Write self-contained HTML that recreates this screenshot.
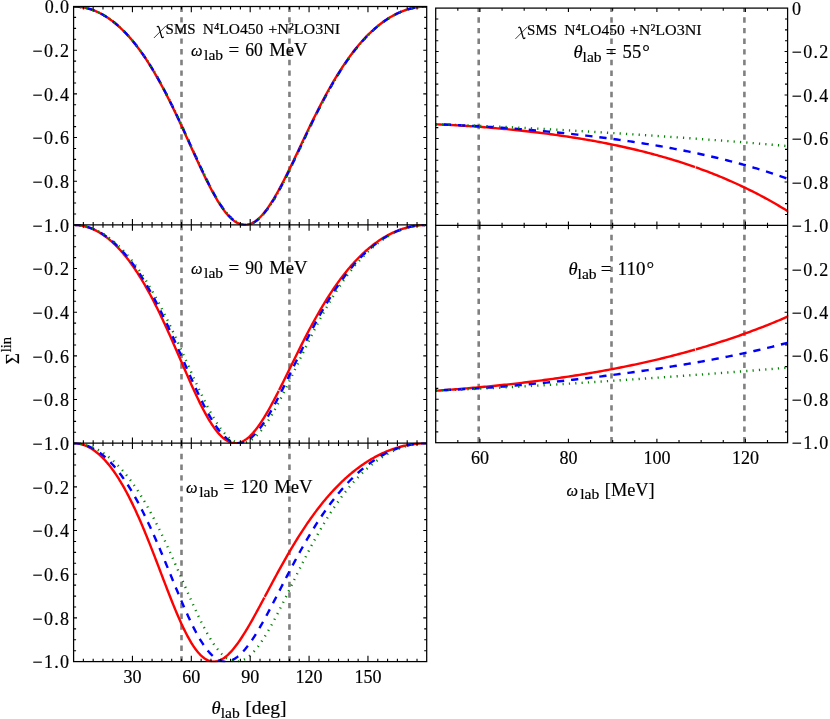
<!DOCTYPE html>
<html><head><meta charset="utf-8"><title>plot</title><style>html,body{margin:0;padding:0;background:#fff}body{width:830px;height:719px;overflow:hidden;font-family:"Liberation Serif",serif}</style></head><body>
<svg width="830" height="719" viewBox="0 0 830 719" style="display:block;will-change:transform">
<rect width="830" height="719" fill="#fff"/>
<clipPath id="cl0"><rect x="73.00" y="5.90" width="354.30" height="219.60"/></clipPath>
<clipPath id="cl1"><rect x="73.00" y="224.30" width="354.30" height="219.50"/></clipPath>
<clipPath id="cl2"><rect x="73.00" y="442.60" width="354.30" height="219.60"/></clipPath>
<clipPath id="cr0"><rect x="435.10" y="7.50" width="353.10" height="218.50"/></clipPath>
<clipPath id="cr1"><rect x="435.10" y="224.80" width="353.10" height="218.50"/></clipPath>
<path d="M181.50 6.50 V224.90" stroke="#808080" stroke-width="2.6" stroke-dasharray="5.4 5.25" fill="none"/>
<path d="M289.45 6.50 V224.90" stroke="#808080" stroke-width="2.6" stroke-dasharray="5.4 5.25" fill="none"/>
<path d="M181.50 224.90 V443.20" stroke="#808080" stroke-width="2.6" stroke-dasharray="5.4 5.25" fill="none"/>
<path d="M289.45 224.90 V443.20" stroke="#808080" stroke-width="2.6" stroke-dasharray="5.4 5.25" fill="none"/>
<path d="M181.50 443.20 V661.60" stroke="#808080" stroke-width="2.6" stroke-dasharray="5.4 5.25" fill="none"/>
<path d="M289.45 443.20 V661.60" stroke="#808080" stroke-width="2.6" stroke-dasharray="5.4 5.25" fill="none"/>
<path d="M478.70 8.10 V225.40" stroke="#808080" stroke-width="2.6" stroke-dasharray="5.4 5.25" stroke-dashoffset="1.50" fill="none"/>
<path d="M611.50 8.10 V225.40" stroke="#808080" stroke-width="2.6" stroke-dasharray="5.4 5.25" stroke-dashoffset="1.50" fill="none"/>
<path d="M744.40 8.10 V225.40" stroke="#808080" stroke-width="2.6" stroke-dasharray="5.4 5.25" stroke-dashoffset="1.50" fill="none"/>
<path d="M478.70 225.40 V442.70" stroke="#808080" stroke-width="2.6" stroke-dasharray="5.4 5.25" stroke-dashoffset="1.30" fill="none"/>
<path d="M611.50 225.40 V442.70" stroke="#808080" stroke-width="2.6" stroke-dasharray="5.4 5.25" stroke-dashoffset="1.30" fill="none"/>
<path d="M744.40 225.40 V442.70" stroke="#808080" stroke-width="2.6" stroke-dasharray="5.4 5.25" stroke-dashoffset="1.30" fill="none"/>
<g clip-path="url(#cl0)" fill="none">
<path d="M73.55 6.50 L74.53 6.51 L75.51 6.54 L76.49 6.58 L77.48 6.65 L78.46 6.73 L79.44 6.83 L80.42 6.95 L81.40 7.08 L82.38 7.24 L83.36 7.41 L84.34 7.61 L85.33 7.82 L86.31 8.05 L87.29 8.29 L88.27 8.56 L89.25 8.85 L90.23 9.15 L91.21 9.47 L92.20 9.81 L93.18 10.17 L94.16 10.55 L95.14 10.95 L96.12 11.36 L97.10 11.80 L98.08 12.25 L99.07 12.72 L100.05 13.22 L101.03 13.73 L102.01 14.26 L102.99 14.81 L103.97 15.38 L104.95 15.97 L105.93 16.58 L106.92 17.21 L107.90 17.85 L108.88 18.52 L109.86 19.21 L110.84 19.92 L111.82 20.65 L112.80 21.39 L113.79 22.16 L114.77 22.95 L115.75 23.76 L116.73 24.59 L117.71 25.44 L118.69 26.31 L119.67 27.20 L120.65 28.12 L121.64 29.05 L122.62 30.00 L123.60 30.98 L124.58 31.98 L125.56 32.99 L126.54 34.03 L127.52 35.09 L128.51 36.18 L129.49 37.28 L130.47 38.41 L131.45 39.55 L132.43 40.72 L133.41 41.91 L134.39 43.12 L135.38 44.36 L136.36 45.62 L137.34 46.89 L138.32 48.19 L139.30 49.52 L140.28 50.86 L141.26 52.23 L142.24 53.62 L143.23 55.03 L144.21 56.46 L145.19 57.92 L146.17 59.39 L147.15 60.89 L148.13 62.41 L149.11 63.96 L150.10 65.52 L151.08 67.11 L152.06 68.72 L153.04 70.35 L154.02 72.00 L155.00 73.67 L155.98 75.37 L156.96 77.08 L157.95 78.82 L158.93 80.57 L159.91 82.35 L160.89 84.15 L161.87 85.97 L162.85 87.80 L163.83 89.66 L164.82 91.53 L165.80 93.43 L166.78 95.34 L167.76 97.27 L168.74 99.22 L169.72 101.18 L170.70 103.16 L171.69 105.16 L172.67 107.17 L173.65 109.20 L174.63 111.24 L175.61 113.30 L176.59 115.37 L177.57 117.45 L178.55 119.55 L179.54 121.65 L180.52 123.77 L181.50 125.89 L182.48 128.03 L183.46 130.17 L184.44 132.32 L185.42 134.48 L186.41 136.64 L187.39 138.80 L188.37 140.97 L189.35 143.14 L190.33 145.31 L191.31 147.48 L192.29 149.65 L193.27 151.81 L194.26 153.98 L195.24 156.13 L196.22 158.28 L197.20 160.43 L198.18 162.56 L199.16 164.69 L200.14 166.80 L201.13 168.90 L202.11 170.98 L203.09 173.05 L204.07 175.09 L205.05 177.12 L206.03 179.13 L207.01 181.12 L207.99 183.08 L208.98 185.02 L209.96 186.92 L210.94 188.80 L211.92 190.65 L212.90 192.47 L213.88 194.25 L214.86 196.00 L215.85 197.71 L216.83 199.38 L217.81 201.01 L218.79 202.60 L219.77 204.15 L220.75 205.65 L221.73 207.10 L222.72 208.50 L223.70 209.86 L224.68 211.17 L225.66 212.42 L226.64 213.62 L227.62 214.76 L228.60 215.85 L229.58 216.88 L230.57 217.86 L231.55 218.77 L232.53 219.62 L233.51 220.42 L234.49 221.15 L235.47 221.81 L236.45 222.42 L237.44 222.95 L238.42 223.43 L239.40 223.84 L240.38 224.18 L241.36 224.46 L242.34 224.67 L243.32 224.81 L244.30 224.89 L245.29 224.90 L246.27 224.84 L247.25 224.72 L248.23 224.53 L249.21 224.27 L250.19 223.95 L251.17 223.57 L252.16 223.12 L253.14 222.60 L254.12 222.02 L255.10 221.38 L256.08 220.68 L257.06 219.92 L258.04 219.10 L259.03 218.22 L260.01 217.28 L260.99 216.28 L261.97 215.23 L262.95 214.13 L263.93 212.97 L264.91 211.76 L265.89 210.50 L266.88 209.20 L267.86 207.84 L268.84 206.44 L269.82 204.99 L270.80 203.50 L271.78 201.97 L272.76 200.41 L273.75 198.80 L274.73 197.15 L275.71 195.47 L276.69 193.76 L277.67 192.01 L278.65 190.24 L279.63 188.43 L280.61 186.60 L281.60 184.74 L282.58 182.86 L283.56 180.96 L284.54 179.03 L285.52 177.09 L286.50 175.12 L287.48 173.14 L288.47 171.15 L289.45 169.14 L290.43 167.12 L291.41 165.08 L292.39 163.04 L293.37 160.99 L294.35 158.93 L295.34 156.86 L296.32 154.79 L297.30 152.72 L298.28 150.65 L299.26 148.57 L300.24 146.49 L301.22 144.41 L302.20 142.34 L303.19 140.26 L304.17 138.20 L305.15 136.13 L306.13 134.07 L307.11 132.02 L308.09 129.97 L309.07 127.93 L310.06 125.90 L311.04 123.88 L312.02 121.87 L313.00 119.87 L313.98 117.89 L314.96 115.91 L315.94 113.95 L316.92 111.99 L317.91 110.06 L318.89 108.13 L319.87 106.22 L320.85 104.33 L321.83 102.45 L322.81 100.59 L323.79 98.74 L324.78 96.91 L325.76 95.09 L326.74 93.30 L327.72 91.52 L328.70 89.75 L329.68 88.01 L330.66 86.28 L331.65 84.57 L332.63 82.88 L333.61 81.21 L334.59 79.56 L335.57 77.93 L336.55 76.31 L337.53 74.72 L338.51 73.14 L339.50 71.58 L340.48 70.05 L341.46 68.53 L342.44 67.03 L343.42 65.55 L344.40 64.09 L345.38 62.66 L346.37 61.24 L347.35 59.84 L348.33 58.46 L349.31 57.10 L350.29 55.75 L351.27 54.43 L352.25 53.13 L353.23 51.85 L354.22 50.59 L355.20 49.35 L356.18 48.12 L357.16 46.92 L358.14 45.74 L359.12 44.57 L360.10 43.43 L361.09 42.30 L362.07 41.19 L363.05 40.10 L364.03 39.04 L365.01 37.98 L365.99 36.95 L366.97 35.94 L367.95 34.95 L368.94 33.97 L369.92 33.02 L370.90 32.08 L371.88 31.16 L372.86 30.26 L373.84 29.37 L374.82 28.51 L375.81 27.66 L376.79 26.83 L377.77 26.02 L378.75 25.22 L379.73 24.45 L380.71 23.69 L381.69 22.95 L382.68 22.22 L383.66 21.52 L384.64 20.83 L385.62 20.16 L386.60 19.50 L387.58 18.86 L388.56 18.24 L389.54 17.64 L390.53 17.05 L391.51 16.48 L392.49 15.92 L393.47 15.38 L394.45 14.86 L395.43 14.36 L396.41 13.87 L397.40 13.40 L398.38 12.94 L399.36 12.50 L400.34 12.07 L401.32 11.66 L402.30 11.27 L403.28 10.90 L404.26 10.53 L405.25 10.19 L406.23 9.86 L407.21 9.55 L408.19 9.25 L409.17 8.96 L410.15 8.70 L411.13 8.45 L412.12 8.21 L413.10 7.99 L414.08 7.78 L415.06 7.59 L416.04 7.42 L417.02 7.26 L418.00 7.11 L418.99 6.99 L419.97 6.87 L420.95 6.77 L421.93 6.69 L422.91 6.62 L423.89 6.57 L424.87 6.53 L425.85 6.51 L426.84 6.50" stroke="#ff0000" stroke-width="2.40"/>
<path d="M73.55 6.50 L74.53 6.51 L75.51 6.54 L76.49 6.58 L77.48 6.65 L78.46 6.73 L79.44 6.83 L80.42 6.95 L81.40 7.08 L82.38 7.24 L83.36 7.41 L84.34 7.60 L85.33 7.81 L86.31 8.04 L87.29 8.29 L88.27 8.55 L89.25 8.83 L90.23 9.14 L91.21 9.46 L92.20 9.80 L93.18 10.15 L94.16 10.53 L95.14 10.93 L96.12 11.34 L97.10 11.77 L98.08 12.22 L99.07 12.70 L100.05 13.19 L101.03 13.69 L102.01 14.22 L102.99 14.77 L103.97 15.34 L104.95 15.92 L105.93 16.53 L106.92 17.16 L107.90 17.80 L108.88 18.47 L109.86 19.15 L110.84 19.85 L111.82 20.58 L112.80 21.32 L113.79 22.09 L114.77 22.87 L115.75 23.68 L116.73 24.50 L117.71 25.35 L118.69 26.22 L119.67 27.10 L120.65 28.01 L121.64 28.94 L122.62 29.89 L123.60 30.86 L124.58 31.85 L125.56 32.86 L126.54 33.90 L127.52 34.95 L128.51 36.03 L129.49 37.13 L130.47 38.25 L131.45 39.39 L132.43 40.55 L133.41 41.74 L134.39 42.94 L135.38 44.17 L136.36 45.42 L137.34 46.69 L138.32 47.99 L139.30 49.30 L140.28 50.64 L141.26 52.00 L142.24 53.38 L143.23 54.78 L144.21 56.21 L145.19 57.66 L146.17 59.13 L147.15 60.62 L148.13 62.13 L149.11 63.67 L150.10 65.22 L151.08 66.80 L152.06 68.40 L153.04 70.02 L154.02 71.67 L155.00 73.33 L155.98 75.01 L156.96 76.72 L157.95 78.45 L158.93 80.20 L159.91 81.96 L160.89 83.75 L161.87 85.56 L162.85 87.39 L163.83 89.23 L164.82 91.10 L165.80 92.98 L166.78 94.88 L167.76 96.80 L168.74 98.74 L169.72 100.70 L170.70 102.67 L171.69 104.66 L172.67 106.66 L173.65 108.68 L174.63 110.71 L175.61 112.76 L176.59 114.82 L177.57 116.89 L178.55 118.98 L179.54 121.08 L180.52 123.18 L181.50 125.30 L182.48 127.43 L183.46 129.56 L184.44 131.70 L185.42 133.85 L186.41 136.00 L187.39 138.16 L188.37 140.32 L189.35 142.48 L190.33 144.65 L191.31 146.81 L192.29 148.97 L193.27 151.14 L194.26 153.29 L195.24 155.45 L196.22 157.59 L197.20 159.73 L198.18 161.87 L199.16 163.99 L200.14 166.10 L201.13 168.19 L202.11 170.28 L203.09 172.34 L204.07 174.39 L205.05 176.42 L206.03 178.43 L207.01 180.42 L207.99 182.39 L208.98 184.33 L209.96 186.24 L210.94 188.13 L211.92 189.98 L212.90 191.81 L213.88 193.60 L214.86 195.35 L215.85 197.07 L216.83 198.75 L217.81 200.39 L218.79 202.00 L219.77 203.55 L220.75 205.07 L221.73 206.54 L222.72 207.96 L223.70 209.33 L224.68 210.65 L225.66 211.92 L226.64 213.14 L227.62 214.31 L228.60 215.41 L229.58 216.47 L230.57 217.46 L231.55 218.40 L232.53 219.27 L233.51 220.09 L234.49 220.84 L235.47 221.54 L236.45 222.17 L237.44 222.73 L238.42 223.23 L239.40 223.67 L240.38 224.04 L241.36 224.34 L242.34 224.58 L243.32 224.75 L244.30 224.86 L245.29 224.90 L246.27 224.87 L247.25 224.78 L248.23 224.62 L249.21 224.40 L250.19 224.11 L251.17 223.75 L252.16 223.33 L253.14 222.85 L254.12 222.30 L255.10 221.69 L256.08 221.02 L257.06 220.28 L258.04 219.49 L259.03 218.64 L260.01 217.73 L260.99 216.76 L261.97 215.74 L262.95 214.66 L263.93 213.53 L264.91 212.35 L265.89 211.11 L266.88 209.83 L267.86 208.50 L268.84 207.12 L269.82 205.70 L270.80 204.23 L271.78 202.72 L272.76 201.18 L273.75 199.59 L274.73 197.96 L275.71 196.30 L276.69 194.61 L277.67 192.88 L278.65 191.12 L279.63 189.33 L280.61 187.51 L281.60 185.67 L282.58 183.80 L283.56 181.90 L284.54 179.99 L285.52 178.05 L286.50 176.10 L287.48 174.13 L288.47 172.14 L289.45 170.14 L290.43 168.12 L291.41 166.10 L292.39 164.06 L293.37 162.01 L294.35 159.95 L295.34 157.89 L296.32 155.82 L297.30 153.75 L298.28 151.68 L299.26 149.60 L300.24 147.52 L301.22 145.44 L302.20 143.36 L303.19 141.29 L304.17 139.22 L305.15 137.15 L306.13 135.08 L307.11 133.03 L308.09 130.97 L309.07 128.93 L310.06 126.89 L311.04 124.87 L312.02 122.85 L313.00 120.84 L313.98 118.85 L314.96 116.86 L315.94 114.89 L316.92 112.93 L317.91 110.98 L318.89 109.05 L319.87 107.13 L320.85 105.22 L321.83 103.33 L322.81 101.46 L323.79 99.60 L324.78 97.76 L325.76 95.93 L326.74 94.12 L327.72 92.33 L328.70 90.56 L329.68 88.80 L330.66 87.06 L331.65 85.34 L332.63 83.64 L333.61 81.96 L334.59 80.29 L335.57 78.65 L336.55 77.02 L337.53 75.41 L338.51 73.82 L339.50 72.25 L340.48 70.70 L341.46 69.17 L342.44 67.66 L343.42 66.17 L344.40 64.70 L345.38 63.25 L346.37 61.81 L347.35 60.40 L348.33 59.01 L349.31 57.64 L350.29 56.28 L351.27 54.95 L352.25 53.64 L353.23 52.34 L354.22 51.07 L355.20 49.81 L356.18 48.58 L357.16 47.36 L358.14 46.17 L359.12 44.99 L360.10 43.83 L361.09 42.70 L362.07 41.58 L363.05 40.48 L364.03 39.40 L365.01 38.34 L365.99 37.30 L366.97 36.27 L367.95 35.27 L368.94 34.28 L369.92 33.32 L370.90 32.37 L371.88 31.44 L372.86 30.53 L373.84 29.63 L374.82 28.76 L375.81 27.90 L376.79 27.06 L377.77 26.24 L378.75 25.44 L379.73 24.65 L380.71 23.89 L381.69 23.14 L382.68 22.41 L383.66 21.69 L384.64 20.99 L385.62 20.31 L386.60 19.65 L387.58 19.01 L388.56 18.38 L389.54 17.77 L390.53 17.17 L391.51 16.59 L392.49 16.03 L393.47 15.49 L394.45 14.96 L395.43 14.45 L396.41 13.95 L397.40 13.48 L398.38 13.01 L399.36 12.57 L400.34 12.14 L401.32 11.73 L402.30 11.33 L403.28 10.95 L404.26 10.58 L405.25 10.23 L406.23 9.90 L407.21 9.58 L408.19 9.28 L409.17 8.99 L410.15 8.72 L411.13 8.47 L412.12 8.23 L413.10 8.01 L414.08 7.80 L415.06 7.61 L416.04 7.43 L417.02 7.27 L418.00 7.12 L418.99 6.99 L419.97 6.88 L420.95 6.78 L421.93 6.69 L422.91 6.62 L423.89 6.57 L424.87 6.53 L425.85 6.51 L426.84 6.50" stroke="#0000ff" stroke-width="2.40" stroke-dasharray="7.3 6.9"/>
<path d="M73.55 6.50 L74.53 6.51 L75.51 6.54 L76.49 6.58 L77.48 6.64 L78.46 6.73 L79.44 6.83 L80.42 6.94 L81.40 7.08 L82.38 7.23 L83.36 7.41 L84.34 7.60 L85.33 7.81 L86.31 8.03 L87.29 8.28 L88.27 8.54 L89.25 8.82 L90.23 9.12 L91.21 9.44 L92.20 9.78 L93.18 10.14 L94.16 10.51 L95.14 10.91 L96.12 11.32 L97.10 11.75 L98.08 12.20 L99.07 12.67 L100.05 13.15 L101.03 13.66 L102.01 14.19 L102.99 14.73 L103.97 15.30 L104.95 15.88 L105.93 16.48 L106.92 17.11 L107.90 17.75 L108.88 18.41 L109.86 19.09 L110.84 19.79 L111.82 20.51 L112.80 21.25 L113.79 22.02 L114.77 22.80 L115.75 23.60 L116.73 24.42 L117.71 25.26 L118.69 26.12 L119.67 27.01 L120.65 27.91 L121.64 28.84 L122.62 29.78 L123.60 30.75 L124.58 31.74 L125.56 32.74 L126.54 33.77 L127.52 34.82 L128.51 35.90 L129.49 36.99 L130.47 38.10 L131.45 39.24 L132.43 40.40 L133.41 41.58 L134.39 42.78 L135.38 44.00 L136.36 45.24 L137.34 46.51 L138.32 47.80 L139.30 49.11 L140.28 50.44 L141.26 51.79 L142.24 53.17 L143.23 54.57 L144.21 55.99 L145.19 57.43 L146.17 58.89 L147.15 60.38 L148.13 61.88 L149.11 63.41 L150.10 64.96 L151.08 66.53 L152.06 68.13 L153.04 69.74 L154.02 71.38 L155.00 73.04 L155.98 74.72 L156.96 76.42 L157.95 78.14 L158.93 79.88 L159.91 81.64 L160.89 83.42 L161.87 85.22 L162.85 87.04 L163.83 88.88 L164.82 90.74 L165.80 92.62 L166.78 94.51 L167.76 96.43 L168.74 98.36 L169.72 100.31 L170.70 102.28 L171.69 104.26 L172.67 106.25 L173.65 108.27 L174.63 110.30 L175.61 112.34 L176.59 114.39 L177.57 116.46 L178.55 118.54 L179.54 120.63 L180.52 122.73 L181.50 124.85 L182.48 126.97 L183.46 129.10 L184.44 131.24 L185.42 133.38 L186.41 135.53 L187.39 137.68 L188.37 139.84 L189.35 142.00 L190.33 144.16 L191.31 146.33 L192.29 148.49 L193.27 150.65 L194.26 152.80 L195.24 154.96 L196.22 157.10 L197.20 159.24 L198.18 161.37 L199.16 163.50 L200.14 165.61 L201.13 167.70 L202.11 169.79 L203.09 171.86 L204.07 173.91 L205.05 175.94 L206.03 177.96 L207.01 179.95 L207.99 181.92 L208.98 183.87 L209.96 185.78 L210.94 187.68 L211.92 189.54 L212.90 191.37 L213.88 193.16 L214.86 194.93 L215.85 196.66 L216.83 198.35 L217.81 200.00 L218.79 201.61 L219.77 203.18 L220.75 204.70 L221.73 206.18 L222.72 207.61 L223.70 209.00 L224.68 210.33 L225.66 211.61 L226.64 212.84 L227.62 214.02 L228.60 215.14 L229.58 216.21 L230.57 217.22 L231.55 218.17 L232.53 219.06 L233.51 219.89 L234.49 220.66 L235.47 221.37 L236.45 222.01 L237.44 222.60 L238.42 223.11 L239.40 223.56 L240.38 223.95 L241.36 224.27 L242.34 224.53 L243.32 224.72 L244.30 224.84 L245.29 224.90 L246.27 224.89 L247.25 224.81 L248.23 224.67 L249.21 224.46 L250.19 224.18 L251.17 223.84 L252.16 223.44 L253.14 222.97 L254.12 222.44 L255.10 221.85 L256.08 221.19 L257.06 220.47 L258.04 219.69 L259.03 218.85 L260.01 217.96 L260.99 217.00 L261.97 215.99 L262.95 214.93 L263.93 213.81 L264.91 212.64 L265.89 211.42 L266.88 210.15 L267.86 208.83 L268.84 207.46 L269.82 206.05 L270.80 204.59 L271.78 203.09 L272.76 201.55 L273.75 199.97 L274.73 198.35 L275.71 196.70 L276.69 195.01 L277.67 193.29 L278.65 191.53 L279.63 189.75 L280.61 187.94 L281.60 186.10 L282.58 184.23 L283.56 182.34 L284.54 180.43 L285.52 178.50 L286.50 176.55 L287.48 174.58 L288.47 172.59 L289.45 170.59 L290.43 168.58 L291.41 166.55 L292.39 164.51 L293.37 162.47 L294.35 160.41 L295.34 158.35 L296.32 156.28 L297.30 154.20 L298.28 152.13 L299.26 150.05 L300.24 147.97 L301.22 145.89 L302.20 143.81 L303.19 141.73 L304.17 139.65 L305.15 137.58 L306.13 135.51 L307.11 133.45 L308.09 131.40 L309.07 129.35 L310.06 127.31 L311.04 125.28 L312.02 123.25 L313.00 121.24 L313.98 119.24 L314.96 117.25 L315.94 115.27 L316.92 113.31 L317.91 111.36 L318.89 109.42 L319.87 107.49 L320.85 105.58 L321.83 103.69 L322.81 101.81 L323.79 99.94 L324.78 98.10 L325.76 96.27 L326.74 94.45 L327.72 92.65 L328.70 90.87 L329.68 89.11 L330.66 87.37 L331.65 85.64 L332.63 83.93 L333.61 82.24 L334.59 80.57 L335.57 78.92 L336.55 77.29 L337.53 75.67 L338.51 74.08 L339.50 72.51 L340.48 70.95 L341.46 69.41 L342.44 67.90 L343.42 66.40 L344.40 64.92 L345.38 63.47 L346.37 62.03 L347.35 60.61 L348.33 59.21 L349.31 57.84 L350.29 56.48 L351.27 55.14 L352.25 53.82 L353.23 52.52 L354.22 51.24 L355.20 49.98 L356.18 48.74 L357.16 47.52 L358.14 46.32 L359.12 45.14 L360.10 43.98 L361.09 42.84 L362.07 41.72 L363.05 40.61 L364.03 39.53 L365.01 38.46 L365.99 37.42 L366.97 36.39 L367.95 35.38 L368.94 34.39 L369.92 33.42 L370.90 32.47 L371.88 31.54 L372.86 30.62 L373.84 29.72 L374.82 28.85 L375.81 27.99 L376.79 27.14 L377.77 26.32 L378.75 25.51 L379.73 24.73 L380.71 23.96 L381.69 23.20 L382.68 22.47 L383.66 21.75 L384.64 21.05 L385.62 20.37 L386.60 19.70 L387.58 19.06 L388.56 18.42 L389.54 17.81 L390.53 17.21 L391.51 16.63 L392.49 16.07 L393.47 15.52 L394.45 14.99 L395.43 14.48 L396.41 13.98 L397.40 13.50 L398.38 13.04 L399.36 12.59 L400.34 12.16 L401.32 11.75 L402.30 11.35 L403.28 10.96 L404.26 10.60 L405.25 10.25 L406.23 9.91 L407.21 9.59 L408.19 9.29 L409.17 9.00 L410.15 8.73 L411.13 8.48 L412.12 8.24 L413.10 8.01 L414.08 7.80 L415.06 7.61 L416.04 7.43 L417.02 7.27 L418.00 7.12 L418.99 6.99 L419.97 6.88 L420.95 6.78 L421.93 6.69 L422.91 6.62 L423.89 6.57 L424.87 6.53 L425.85 6.51 L426.84 6.50" stroke="#008300" stroke-width="2.40" stroke-dasharray="1.2 5.15"/>
</g>
<g clip-path="url(#cl1)" fill="none">
<path d="M73.55 224.90 L74.53 224.91 L75.51 224.94 L76.49 225.00 L77.48 225.07 L78.46 225.17 L79.44 225.29 L80.42 225.43 L81.40 225.60 L82.38 225.78 L83.36 225.99 L84.34 226.22 L85.33 226.47 L86.31 226.74 L87.29 227.03 L88.27 227.35 L89.25 227.69 L90.23 228.05 L91.21 228.43 L92.20 228.84 L93.18 229.26 L94.16 229.71 L95.14 230.18 L96.12 230.68 L97.10 231.20 L98.08 231.73 L99.07 232.30 L100.05 232.88 L101.03 233.49 L102.01 234.12 L102.99 234.77 L103.97 235.45 L104.95 236.15 L105.93 236.87 L106.92 237.62 L107.90 238.39 L108.88 239.18 L109.86 240.00 L110.84 240.84 L111.82 241.70 L112.80 242.59 L113.79 243.50 L114.77 244.44 L115.75 245.40 L116.73 246.38 L117.71 247.39 L118.69 248.42 L119.67 249.48 L120.65 250.56 L121.64 251.66 L122.62 252.79 L123.60 253.95 L124.58 255.13 L125.56 256.33 L126.54 257.56 L127.52 258.81 L128.51 260.09 L129.49 261.39 L130.47 262.72 L131.45 264.08 L132.43 265.45 L133.41 266.86 L134.39 268.28 L135.38 269.74 L136.36 271.21 L137.34 272.72 L138.32 274.24 L139.30 275.80 L140.28 277.37 L141.26 278.97 L142.24 280.60 L143.23 282.25 L144.21 283.92 L145.19 285.62 L146.17 287.35 L147.15 289.09 L148.13 290.86 L149.11 292.65 L150.10 294.47 L151.08 296.31 L152.06 298.17 L153.04 300.06 L154.02 301.96 L155.00 303.89 L155.98 305.84 L156.96 307.81 L157.95 309.80 L158.93 311.81 L159.91 313.84 L160.89 315.89 L161.87 317.95 L162.85 320.04 L163.83 322.14 L164.82 324.26 L165.80 326.39 L166.78 328.54 L167.76 330.71 L168.74 332.89 L169.72 335.08 L170.70 337.28 L171.69 339.49 L172.67 341.72 L173.65 343.95 L174.63 346.20 L175.61 348.45 L176.59 350.70 L177.57 352.97 L178.55 355.23 L179.54 357.50 L180.52 359.77 L181.50 362.04 L182.48 364.31 L183.46 366.58 L184.44 368.84 L185.42 371.10 L186.41 373.36 L187.39 375.60 L188.37 377.84 L189.35 380.06 L190.33 382.28 L191.31 384.48 L192.29 386.66 L193.27 388.83 L194.26 390.97 L195.24 393.10 L196.22 395.20 L197.20 397.29 L198.18 399.34 L199.16 401.37 L200.14 403.37 L201.13 405.34 L202.11 407.27 L203.09 409.18 L204.07 411.04 L205.05 412.87 L206.03 414.66 L207.01 416.41 L207.99 418.11 L208.98 419.78 L209.96 421.39 L210.94 422.96 L211.92 424.48 L212.90 425.95 L213.88 427.37 L214.86 428.73 L215.85 430.04 L216.83 431.29 L217.81 432.49 L218.79 433.63 L219.77 434.70 L220.75 435.72 L221.73 436.68 L222.72 437.57 L223.70 438.40 L224.68 439.17 L225.66 439.87 L226.64 440.50 L227.62 441.07 L228.60 441.57 L229.58 442.01 L230.57 442.37 L231.55 442.67 L232.53 442.91 L233.51 443.07 L234.49 443.17 L235.47 443.20 L236.45 443.16 L237.44 443.06 L238.42 442.89 L239.40 442.65 L240.38 442.35 L241.36 441.98 L242.34 441.54 L243.32 441.05 L244.30 440.49 L245.29 439.87 L246.27 439.18 L247.25 438.44 L248.23 437.64 L249.21 436.78 L250.19 435.86 L251.17 434.89 L252.16 433.87 L253.14 432.79 L254.12 431.66 L255.10 430.48 L256.08 429.25 L257.06 427.97 L258.04 426.65 L259.03 425.28 L260.01 423.87 L260.99 422.42 L261.97 420.93 L262.95 419.40 L263.93 417.83 L264.91 416.23 L265.89 414.60 L266.88 412.93 L267.86 411.24 L268.84 409.51 L269.82 407.76 L270.80 405.98 L271.78 404.18 L272.76 402.35 L273.75 400.50 L274.73 398.64 L275.71 396.75 L276.69 394.85 L277.67 392.93 L278.65 391.00 L278.71 390.89 M279.09 390.13 L279.63 389.06 L280.61 387.10 L281.60 385.13 L282.58 383.16 L283.56 381.18 L284.54 379.19 L285.52 377.19 L286.50 375.19 L287.48 373.19 L288.47 371.18 L289.45 369.18 L290.43 367.17 L291.41 365.17 L292.39 363.16 L293.37 361.16 L294.35 359.16 L295.34 357.17 L296.32 355.18 L297.30 353.20 L298.28 351.23 L299.26 349.26 L300.24 347.30 L301.22 345.35 L302.20 343.41 L303.19 341.48 L304.17 339.55 L305.15 337.64 L306.13 335.75 L307.11 333.86 L308.09 331.99 L309.07 330.13 L310.06 328.28 L311.04 326.44 L312.02 324.63 L313.00 322.82 L313.98 321.03 L314.96 319.26 L315.94 317.50 L316.92 315.75 L317.91 314.03 L318.89 312.31 L319.87 310.62 L320.85 308.94 L321.83 307.28 L322.81 305.63 L323.79 304.01 L324.78 302.40 L325.76 300.80 L326.74 299.23 L327.72 297.67 L328.70 296.13 L329.68 294.61 L330.66 293.10 L331.65 291.62 L332.63 290.15 L333.61 288.70 L334.59 287.26 L335.57 285.85 L336.55 284.45 L337.53 283.07 L338.51 281.71 L339.50 280.37 L340.48 279.04 L341.46 277.74 L342.44 276.45 L343.42 275.18 L344.40 273.92 L345.38 272.69 L346.37 271.47 L347.35 270.27 L348.33 269.09 L349.31 267.92 L350.29 266.78 L351.27 265.65 L352.25 264.53 L353.23 263.44 L354.22 262.36 L355.20 261.30 L356.18 260.26 L357.16 259.23 L358.14 258.22 L359.12 257.23 L360.10 256.25 L361.09 255.29 L362.07 254.35 L363.05 253.43 L364.03 252.52 L365.01 251.62 L365.99 250.75 L366.97 249.89 L367.95 249.04 L368.94 248.21 L369.92 247.40 L370.90 246.60 L371.88 245.82 L372.86 245.05 L373.84 244.30 L374.82 243.57 L375.81 242.85 L376.79 242.15 L377.77 241.46 L378.75 240.78 L379.73 240.12 L380.71 239.48 L381.69 238.85 L382.68 238.24 L383.66 237.64 L384.64 237.05 L385.62 236.48 L386.60 235.93 L387.58 235.39 L388.56 234.86 L389.54 234.35 L390.53 233.85 L391.51 233.36 L392.49 232.89 L393.47 232.44 L394.45 231.99 L395.43 231.56 L396.41 231.15 L397.40 230.75 L398.38 230.36 L399.36 229.99 L400.34 229.63 L401.32 229.28 L402.30 228.95 L403.28 228.63 L404.26 228.32 L405.25 228.03 L406.23 227.75 L407.21 227.48 L408.19 227.23 L409.17 226.99 L410.15 226.76 L411.13 226.55 L412.12 226.35 L413.10 226.16 L414.08 225.99 L415.06 225.83 L416.04 225.68 L417.02 225.54 L418.00 225.42 L418.99 225.31 L419.97 225.22 L420.95 225.13 L421.93 225.06 L422.91 225.00 L423.89 224.96 L424.87 224.93 L425.85 224.91 L426.84 224.90" stroke="#ff0000" stroke-width="2.40"/>
<path d="M73.55 224.90 L74.53 224.91 L75.51 224.94 L76.49 224.99 L77.48 225.06 L78.46 225.16 L79.44 225.27 L80.42 225.40 L81.40 225.56 L82.38 225.73 L83.36 225.93 L84.34 226.15 L85.33 226.38 L86.31 226.64 L87.29 226.92 L88.27 227.22 L89.25 227.54 L90.23 227.88 L91.21 228.25 L92.20 228.63 L93.18 229.03 L94.16 229.46 L95.14 229.91 L96.12 230.38 L97.10 230.87 L98.08 231.38 L99.07 231.91 L100.05 232.46 L101.03 233.04 L102.01 233.64 L102.99 234.26 L103.97 234.90 L104.95 235.56 L105.93 236.25 L106.92 236.96 L107.90 237.68 L108.88 238.44 L109.86 239.21 L110.84 240.01 L111.82 240.83 L112.80 241.67 L113.79 242.53 L114.77 243.42 L115.75 244.33 L116.73 245.26 L117.71 246.22 L118.69 247.20 L119.67 248.20 L120.65 249.22 L121.64 250.27 L122.62 251.34 L123.60 252.44 L124.58 253.56 L125.56 254.70 L126.54 255.87 L127.52 257.06 L128.51 258.27 L129.49 259.51 L130.47 260.77 L131.45 262.06 L132.43 263.36 L133.41 264.70 L134.39 266.05 L135.38 267.44 L136.36 268.84 L137.34 270.27 L138.32 271.72 L139.30 273.20 L140.28 274.70 L141.26 276.22 L142.24 277.77 L143.23 279.34 L144.21 280.94 L145.19 282.56 L146.17 284.20 L147.15 285.87 L148.13 287.55 L149.11 289.27 L150.10 291.00 L151.08 292.76 L152.06 294.54 L153.04 296.34 L154.02 298.16 L155.00 300.01 L155.98 301.87 L156.96 303.76 L157.95 305.67 L158.93 307.60 L159.91 309.55 L160.89 311.51 L161.87 313.50 L162.85 315.51 L163.83 317.53 L164.82 319.57 L165.80 321.63 L166.78 323.71 L167.76 325.80 L168.74 327.91 L169.72 330.03 L170.70 332.16 L171.69 334.31 L172.67 336.47 L173.65 338.64 L174.63 340.83 L175.61 343.02 L176.59 345.22 L177.57 347.43 L178.55 349.65 L179.54 351.87 L180.52 354.10 L181.50 356.33 L182.48 358.56 L183.46 360.80 L184.44 363.03 L185.42 365.27 L186.41 367.50 L187.39 369.73 L188.37 371.95 L189.35 374.17 L190.33 376.38 L191.31 378.58 L192.29 380.77 L193.27 382.95 L194.26 385.11 L195.24 387.26 L196.22 389.40 L197.20 391.51 L198.18 393.61 L199.16 395.68 L200.14 397.73 L201.13 399.76 L202.11 401.75 L203.09 403.72 L204.07 405.67 L205.05 407.57 L206.03 409.45 L207.01 411.29 L207.99 413.09 L208.98 414.86 L209.96 416.59 L210.94 418.27 L211.92 419.91 L212.90 421.51 L213.88 423.06 L214.86 424.56 L215.85 426.02 L216.83 427.42 L217.81 428.77 L218.79 430.07 L219.77 431.31 L220.75 432.49 L221.73 433.62 L222.72 434.69 L223.70 435.70 L224.68 436.65 L225.66 437.54 L226.64 438.37 L227.62 439.13 L228.60 439.83 L229.58 440.47 L230.57 441.04 L231.55 441.54 L232.53 441.98 L233.51 442.35 L234.49 442.65 L235.47 442.89 L236.45 443.06 L237.44 443.16 L238.42 443.20 L239.40 443.17 L240.38 443.07 L241.36 442.91 L242.34 442.68 L243.32 442.38 L244.30 442.02 L245.29 441.60 L246.27 441.11 L247.25 440.56 L248.23 439.95 L249.21 439.27 L250.19 438.54 L251.17 437.74 L252.16 436.89 L253.14 435.98 L254.12 435.02 L255.10 434.00 L256.08 432.92 L257.06 431.80 L258.04 430.62 L259.03 429.40 L260.01 428.12 L260.99 426.80 L261.97 425.44 L262.95 424.03 L263.93 422.58 L264.91 421.09 L265.89 419.56 L266.88 417.99 L267.86 416.39 L268.84 414.75 L269.82 413.08 L270.80 411.38 L271.78 409.65 L272.76 407.89 L273.75 406.11 L274.73 404.30 L275.71 402.46 L276.69 400.61 L277.67 398.73 L278.65 396.83 L279.63 394.92 L280.61 392.99 L281.60 391.05 L282.58 389.09 L283.56 387.12 L284.54 385.14 L285.52 383.15 L286.50 381.15 L287.48 379.14 L288.47 377.13 L289.45 375.11 L290.43 373.09 L291.41 371.07 L292.39 369.04 L293.37 367.02 L294.35 364.99 L295.34 362.97 L296.32 360.95 L297.30 358.93 L298.28 356.92 L299.26 354.91 L300.24 352.90 L301.22 350.91 L302.20 348.92 L303.19 346.94 L304.17 344.96 L305.15 343.00 L306.13 341.05 L307.11 339.10 L308.09 337.17 L309.07 335.25 L310.06 333.34 L311.04 331.45 L312.02 329.56 L313.00 327.70 L313.98 325.84 L314.96 324.00 L315.94 322.17 L316.92 320.36 L317.91 318.57 L318.89 316.79 L319.87 315.02 L320.85 313.28 L321.83 311.54 L322.81 309.83 L323.79 308.13 L324.78 306.45 L325.76 304.79 L326.74 303.14 L327.72 301.51 L328.70 299.90 L329.68 298.31 L330.66 296.74 L331.65 295.18 L332.63 293.64 L333.61 292.12 L334.59 290.62 L335.57 289.13 L336.55 287.67 L337.53 286.22 L338.51 284.79 L339.50 283.38 L340.48 281.99 L341.46 280.62 L342.44 279.26 L343.42 277.93 L344.40 276.61 L345.38 275.31 L346.37 274.03 L347.35 272.77 L348.33 271.52 L349.31 270.30 L350.29 269.09 L351.27 267.90 L352.25 266.73 L353.23 265.58 L354.22 264.44 L355.20 263.32 L356.18 262.22 L357.16 261.14 L358.14 260.08 L359.12 259.03 L360.10 258.00 L361.09 256.99 L362.07 256.00 L363.05 255.02 L364.03 254.06 L365.01 253.12 L365.99 252.19 L366.97 251.29 L367.95 250.39 L368.94 249.52 L369.92 248.66 L370.90 247.82 L371.88 246.99 L372.86 246.19 L373.84 245.39 L374.82 244.62 L375.81 243.86 L376.79 243.12 L377.77 242.39 L378.75 241.68 L379.73 240.98 L380.71 240.30 L381.69 239.64 L382.68 238.99 L383.66 238.36 L384.64 237.74 L385.62 237.14 L386.60 236.55 L387.58 235.98 L388.56 235.42 L389.54 234.88 L390.53 234.35 L391.51 233.84 L392.49 233.34 L393.47 232.86 L394.45 232.39 L395.43 231.94 L396.41 231.50 L397.40 231.08 L398.38 230.67 L399.36 230.27 L400.34 229.89 L401.32 229.53 L402.30 229.18 L403.28 228.84 L404.26 228.52 L405.25 228.21 L406.23 227.91 L407.21 227.63 L408.19 227.36 L409.17 227.11 L410.15 226.87 L411.13 226.64 L412.12 226.43 L413.10 226.23 L414.08 226.05 L415.06 225.88 L416.04 225.72 L417.02 225.58 L418.00 225.45 L418.99 225.33 L419.97 225.23 L420.95 225.14 L421.93 225.07 L422.91 225.01 L423.89 224.96 L424.87 224.93 L425.85 224.91 L426.84 224.90" stroke="#0000ff" stroke-width="2.40" stroke-dasharray="7.3 6.9"/>
<path d="M73.55 224.90 L74.53 224.91 L75.51 224.94 L76.49 224.99 L77.48 225.06 L78.46 225.14 L79.44 225.25 L80.42 225.38 L81.40 225.52 L82.38 225.69 L83.36 225.87 L84.34 226.08 L85.33 226.30 L86.31 226.54 L87.29 226.81 L88.27 227.09 L89.25 227.39 L90.23 227.72 L91.21 228.06 L92.20 228.42 L93.18 228.80 L94.16 229.20 L95.14 229.63 L96.12 230.07 L97.10 230.53 L98.08 231.01 L99.07 231.52 L100.05 232.04 L101.03 232.58 L102.01 233.15 L102.99 233.73 L103.97 234.34 L104.95 234.96 L105.93 235.61 L106.92 236.28 L107.90 236.97 L108.88 237.68 L109.86 238.41 L110.84 239.16 L111.82 239.94 L112.80 240.73 L113.79 241.55 L114.77 242.38 L115.75 243.24 L116.73 244.12 L117.71 245.03 L118.69 245.95 L119.67 246.90 L120.65 247.87 L121.64 248.86 L122.62 249.87 L123.60 250.91 L124.58 251.97 L125.56 253.05 L126.54 254.15 L127.52 255.28 L128.51 256.42 L129.49 257.59 L130.47 258.79 L131.45 260.00 L132.43 261.24 L133.41 262.51 L134.39 263.79 L135.38 265.10 L136.36 266.43 L137.34 267.78 L138.32 269.16 L139.30 270.56 L140.28 271.98 L141.26 273.43 L142.24 274.90 L143.23 276.39 L144.21 277.91 L145.19 279.44 L146.17 281.01 L147.15 282.59 L148.13 284.19 L149.11 285.82 L150.10 287.47 L151.08 289.15 L152.06 290.84 L153.04 292.56 L154.02 294.30 L155.00 296.06 L155.98 297.84 L156.96 299.64 L157.95 301.47 L158.93 303.31 L159.91 305.18 L160.89 307.06 L161.87 308.97 L162.85 310.89 L163.83 312.83 L164.82 314.80 L165.80 316.77 L166.78 318.77 L167.76 320.78 L168.74 322.82 L169.72 324.86 L170.70 326.92 L171.69 329.00 L172.67 331.09 L173.65 333.19 L174.63 335.31 L175.61 337.44 L176.59 339.58 L177.57 341.73 L178.55 343.89 L179.54 346.06 L180.52 348.24 L181.50 350.42 L182.48 352.61 L183.46 354.81 L184.44 357.00 L185.42 359.21 L186.41 361.41 L187.39 363.61 L188.37 365.81 L189.35 368.01 L190.33 370.21 L191.31 372.40 L192.29 374.59 L193.27 376.77 L194.26 378.94 L195.24 381.10 L196.22 383.25 L197.20 385.39 L198.18 387.51 L199.16 389.62 L200.14 391.71 L201.13 393.78 L202.11 395.82 L203.09 397.85 L204.07 399.85 L205.05 401.83 L206.03 403.78 L207.01 405.70 L207.99 407.59 L208.98 409.45 L209.96 411.27 L210.94 413.06 L211.92 414.81 L212.90 416.53 L213.88 418.20 L214.86 419.83 L215.85 421.42 L216.83 422.96 L217.81 424.45 L218.79 425.90 L219.77 427.30 L220.75 428.64 L221.73 429.94 L222.72 431.18 L223.70 432.37 L224.68 433.49 L225.66 434.57 L226.64 435.58 L227.62 436.53 L228.60 437.43 L229.58 438.26 L230.57 439.03 L231.55 439.73 L232.53 440.38 L233.51 440.95 L234.49 441.47 L235.47 441.91 L236.45 442.29 L237.44 442.61 L238.42 442.86 L239.40 443.04 L240.38 443.15 L241.36 443.20 L242.34 443.18 L243.32 443.09 L244.30 442.94 L245.29 442.72 L246.27 442.44 L247.25 442.09 L248.23 441.68 L249.21 441.20 L250.19 440.66 L251.17 440.05 L252.16 439.39 L253.14 438.66 L254.12 437.87 L255.10 437.03 L256.08 436.13 L257.06 435.17 L258.04 434.15 L259.03 433.08 L260.01 431.96 L260.99 430.79 L261.97 429.56 L262.95 428.29 L263.93 426.97 L264.91 425.61 L265.89 424.20 L266.88 422.74 L267.86 421.25 L268.84 419.71 L269.82 418.14 L270.80 416.53 L271.78 414.89 L272.76 413.21 L273.75 411.50 L274.73 409.76 L275.71 407.99 L276.69 406.19 L277.67 404.36 L278.65 402.52 L279.63 400.64 L280.61 398.75 L281.60 396.84 L282.58 394.91 L283.56 392.96 L284.54 391.00 L285.52 389.02 L286.50 387.03 L287.48 385.03 L288.47 383.02 L289.45 381.00 L290.43 378.97 L291.41 376.93 L292.39 374.89 L293.37 372.85 L294.35 370.80 L295.34 368.75 L296.32 366.70 L297.30 364.65 L298.28 362.60 L299.26 360.56 L300.24 358.52 L301.22 356.48 L302.20 354.44 L303.19 352.41 L304.17 350.39 L305.15 348.38 L306.13 346.37 L307.11 344.37 L308.09 342.38 L309.07 340.40 L310.06 338.43 L311.04 336.48 L312.02 334.53 L313.00 332.60 L313.98 330.68 L314.96 328.77 L315.94 326.88 L316.92 325.00 L317.91 323.14 L318.89 321.29 L319.87 319.46 L320.85 317.64 L321.83 315.84 L322.81 314.05 L323.79 312.28 L324.78 310.53 L325.76 308.80 L326.74 307.08 L327.72 305.38 L328.70 303.70 L329.68 302.03 L330.66 300.39 L331.65 298.76 L332.63 297.15 L333.61 295.56 L334.59 293.99 L335.57 292.43 L336.55 290.90 L337.53 289.38 L338.51 287.88 L339.50 286.41 L340.48 284.95 L341.46 283.51 L342.44 282.09 L343.42 280.68 L344.40 279.30 L345.38 277.94 L346.37 276.59 L347.35 275.27 L348.33 273.96 L349.31 272.67 L350.29 271.40 L351.27 270.15 L352.25 268.92 L353.23 267.71 L354.22 266.52 L355.20 265.34 L356.18 264.18 L357.16 263.05 L358.14 261.93 L359.12 260.83 L360.10 259.74 L361.09 258.68 L362.07 257.63 L363.05 256.61 L364.03 255.60 L365.01 254.61 L365.99 253.63 L366.97 252.68 L367.95 251.74 L368.94 250.82 L369.92 249.91 L370.90 249.03 L371.88 248.16 L372.86 247.31 L373.84 246.48 L374.82 245.66 L375.81 244.86 L376.79 244.08 L377.77 243.31 L378.75 242.56 L379.73 241.83 L380.71 241.11 L381.69 240.41 L382.68 239.73 L383.66 239.06 L384.64 238.41 L385.62 237.78 L386.60 237.16 L387.58 236.56 L388.56 235.97 L389.54 235.40 L390.53 234.85 L391.51 234.31 L392.49 233.79 L393.47 233.28 L394.45 232.79 L395.43 232.31 L396.41 231.85 L397.40 231.40 L398.38 230.97 L399.36 230.56 L400.34 230.16 L401.32 229.77 L402.30 229.40 L403.28 229.05 L404.26 228.71 L405.25 228.38 L406.23 228.07 L407.21 227.77 L408.19 227.49 L409.17 227.22 L410.15 226.97 L411.13 226.74 L412.12 226.51 L413.10 226.30 L414.08 226.11 L415.06 225.93 L416.04 225.77 L417.02 225.62 L418.00 225.48 L418.99 225.36 L419.97 225.25 L420.95 225.16 L421.93 225.08 L422.91 225.01 L423.89 224.96 L424.87 224.93 L425.85 224.91 L426.84 224.90" stroke="#008300" stroke-width="2.40" stroke-dasharray="1.2 5.15"/>
</g>
<g clip-path="url(#cl2)" fill="none">
<path d="M73.55 443.20 L74.53 443.22 L75.51 443.27 L76.49 443.35 L77.48 443.46 L78.46 443.61 L79.44 443.79 L80.42 444.01 L81.40 444.25 L82.38 444.53 L83.36 444.85 L84.34 445.19 L85.33 445.57 L86.31 445.99 L87.29 446.43 L88.27 446.91 L89.25 447.43 L90.23 447.97 L91.21 448.55 L92.20 449.17 L93.18 449.82 L94.16 450.50 L95.14 451.21 L96.12 451.96 L97.10 452.74 L98.08 453.56 L99.07 454.41 L100.05 455.30 L101.03 456.22 L102.01 457.17 L102.99 458.16 L103.97 459.18 L104.95 460.24 L105.93 461.33 L106.92 462.46 L107.90 463.62 L108.88 464.82 L109.86 466.05 L110.84 467.32 L111.82 468.62 L112.80 469.95 L113.79 471.32 L114.77 472.73 L115.75 474.17 L116.73 475.64 L117.71 477.15 L118.69 478.70 L119.67 480.28 L120.65 481.89 L121.64 483.54 L122.62 485.22 L123.60 486.94 L124.58 488.69 L125.56 490.47 L126.54 492.29 L127.52 494.14 L128.51 496.02 L129.49 497.94 L130.47 499.89 L131.45 501.87 L132.43 503.88 L133.41 505.92 L134.39 508.00 L135.38 510.10 L136.36 512.24 L137.34 514.40 L138.32 516.59 L139.30 518.81 L140.28 521.06 L141.26 523.34 L142.24 525.64 L143.23 527.96 L144.21 530.31 L145.19 532.68 L146.17 535.08 L147.15 537.49 L148.13 539.93 L149.11 542.38 L150.10 544.85 L151.08 547.34 L152.06 549.85 L153.04 552.36 L154.02 554.89 L155.00 557.44 L155.98 559.99 L156.96 562.55 L157.95 565.11 L158.93 567.69 L159.91 570.26 L160.89 572.84 L161.87 575.42 L162.85 577.99 L163.83 580.56 L164.82 583.13 L165.80 585.69 L166.78 588.23 L167.76 590.77 L168.74 593.29 L169.72 595.80 L170.70 598.29 L171.69 600.76 L172.67 603.21 L173.65 605.64 L174.63 608.03 L175.61 610.40 L176.59 612.74 L177.57 615.05 L178.55 617.32 L179.54 619.56 L180.52 621.75 L181.50 623.91 L182.48 626.02 L183.46 628.09 L184.44 630.11 L185.42 632.08 L186.41 633.99 L187.39 635.86 L188.37 637.67 L189.35 639.43 L190.33 641.13 L191.31 642.76 L192.29 644.34 L193.27 645.85 L194.26 647.31 L195.24 648.69 L196.22 650.01 L197.20 651.26 L198.18 652.44 L199.16 653.55 L200.14 654.60 L201.13 655.57 L202.11 656.47 L203.09 657.30 L204.07 658.05 L205.05 658.73 L206.03 659.34 L207.01 659.88 L207.99 660.34 L208.98 660.73 L209.96 661.05 L210.94 661.30 L211.92 661.47 L212.90 661.57 L213.88 661.60 L214.86 661.56 L215.85 661.45 L216.83 661.27 L217.81 661.02 L218.79 660.71 L219.77 660.33 L220.75 659.88 L221.73 659.37 L222.72 658.80 L223.70 658.17 L224.68 657.48 L225.66 656.73 L226.64 655.92 L227.62 655.06 L228.60 654.14 L229.58 653.17 L230.57 652.15 L231.55 651.08 L232.53 649.96 L233.51 648.80 L234.49 647.59 L235.47 646.34 L236.45 645.05 L237.44 643.71 L238.42 642.34 L239.40 640.94 L240.38 639.50 L241.36 638.02 L242.34 636.52 L243.32 634.98 L244.30 633.42 L245.29 631.83 L246.27 630.21 L247.25 628.57 L248.23 626.91 L249.21 625.23 L250.19 623.52 L251.17 621.80 L252.16 620.06 L253.14 618.31 L254.12 616.54 L255.10 614.76 L256.08 612.97 L257.06 611.17 L258.04 609.36 L259.03 607.54 L260.01 605.71 L260.99 603.88 L261.97 602.04 L262.95 600.20 L263.93 598.36 L264.30 597.66 M264.70 596.92 L264.91 596.51 L265.89 594.67 L266.88 592.82 L267.86 590.97 L268.84 589.12 L269.82 587.28 L270.80 585.44 L271.78 583.60 L272.76 581.77 L273.75 579.94 L274.73 578.12 L275.71 576.30 L276.69 574.49 L277.67 572.69 L278.65 570.89 L279.63 569.10 L280.61 567.33 L281.60 565.56 L282.58 563.80 L283.56 562.05 L284.54 560.31 L285.52 558.58 L286.50 556.86 L287.48 555.15 L288.47 553.45 L289.45 551.77 L290.43 550.10 L291.41 548.44 L292.39 546.79 L293.37 545.16 L294.35 543.53 L295.34 541.92 L296.32 540.33 L297.30 538.75 L298.28 537.18 L299.26 535.62 L300.24 534.08 L301.22 532.55 L302.20 531.04 L303.19 529.54 L304.17 528.06 L305.15 526.59 L306.13 525.13 L307.11 523.69 L308.09 522.26 L309.07 520.84 L310.06 519.44 L311.04 518.06 L312.02 516.69 L313.00 515.33 L313.98 513.99 L314.96 512.66 L315.94 511.35 L316.92 510.05 L317.91 508.77 L318.89 507.50 L319.87 506.24 L320.85 505.00 L321.83 503.78 L322.81 502.56 L323.79 501.36 L324.78 500.18 L325.76 499.01 L326.74 497.85 L327.72 496.71 L328.70 495.58 L329.68 494.47 L330.66 493.37 L331.65 492.28 L332.63 491.21 L333.61 490.15 L334.59 489.11 L335.57 488.07 L336.55 487.05 L337.53 486.05 L338.51 485.06 L339.50 484.08 L340.48 483.11 L341.46 482.16 L342.44 481.22 L343.42 480.30 L344.40 479.38 L345.38 478.48 L346.37 477.60 L347.35 476.72 L348.33 475.86 L349.31 475.01 L350.29 474.17 L351.27 473.35 L352.25 472.54 L353.23 471.74 L354.22 470.95 L355.20 470.18 L356.18 469.41 L357.16 468.66 L358.14 467.92 L359.12 467.20 L360.10 466.48 L361.09 465.78 L362.07 465.09 L363.05 464.41 L364.03 463.74 L365.01 463.08 L365.99 462.44 L366.97 461.81 L367.95 461.18 L368.94 460.57 L369.92 459.98 L370.90 459.39 L371.88 458.81 L372.86 458.25 L373.84 457.69 L374.82 457.15 L375.81 456.62 L376.79 456.09 L377.77 455.58 L378.75 455.08 L379.73 454.60 L380.71 454.12 L381.69 453.65 L382.68 453.19 L383.66 452.75 L384.64 452.31 L385.62 451.89 L386.60 451.47 L387.58 451.07 L388.56 450.68 L389.54 450.29 L390.53 449.92 L391.51 449.56 L392.49 449.21 L393.47 448.87 L394.45 448.54 L395.43 448.21 L396.41 447.90 L397.40 447.60 L398.38 447.31 L399.36 447.03 L400.34 446.76 L401.32 446.50 L402.30 446.25 L403.28 446.01 L404.26 445.78 L405.25 445.56 L406.23 445.35 L407.21 445.15 L408.19 444.96 L409.17 444.78 L410.15 444.61 L411.13 444.45 L412.12 444.30 L413.10 444.15 L414.08 444.02 L415.06 443.90 L416.04 443.79 L417.02 443.69 L418.00 443.59 L418.99 443.51 L419.97 443.44 L420.95 443.37 L421.93 443.32 L422.91 443.28 L423.89 443.24 L424.87 443.22 L425.85 443.20 L426.84 443.20" stroke="#ff0000" stroke-width="2.40"/>
<path d="M73.55 443.20 L74.53 443.21 L75.51 443.25 L76.49 443.32 L77.48 443.41 L78.46 443.53 L79.44 443.68 L80.42 443.85 L81.40 444.05 L82.38 444.28 L83.36 444.53 L84.34 444.81 L85.33 445.11 L86.31 445.45 L87.29 445.81 L88.27 446.19 L89.25 446.61 L90.23 447.05 L91.21 447.52 L92.20 448.01 L93.18 448.53 L94.16 449.08 L95.14 449.66 L96.12 450.27 L97.10 450.90 L98.08 451.56 L99.07 452.24 L100.05 452.96 L101.03 453.70 L102.01 454.47 L102.99 455.27 L103.97 456.09 L104.95 456.95 L105.93 457.83 L106.92 458.74 L107.90 459.68 L108.88 460.65 L109.86 461.64 L110.84 462.66 L111.82 463.72 L112.80 464.80 L113.79 465.91 L114.77 467.05 L115.75 468.21 L116.73 469.41 L117.71 470.63 L118.69 471.89 L119.67 473.17 L120.65 474.48 L121.64 475.82 L122.62 477.19 L123.60 478.59 L124.58 480.02 L125.56 481.47 L126.54 482.96 L127.52 484.47 L128.51 486.01 L129.49 487.58 L130.47 489.18 L131.45 490.81 L132.43 492.47 L133.41 494.15 L134.39 495.86 L135.38 497.60 L136.36 499.37 L137.34 501.17 L138.32 502.99 L139.30 504.84 L140.28 506.71 L141.26 508.62 L142.24 510.54 L143.23 512.50 L144.21 514.48 L145.19 516.48 L146.17 518.51 L147.15 520.56 L148.13 522.64 L149.11 524.74 L150.10 526.86 L151.08 529.00 L152.06 531.16 L153.04 533.35 L154.02 535.55 L155.00 537.77 L155.98 540.01 L156.96 542.27 L157.95 544.55 L158.93 546.84 L159.91 549.14 L160.89 551.46 L161.87 553.79 L162.85 556.13 L163.83 558.49 L164.82 560.85 L165.80 563.22 L166.78 565.59 L167.76 567.98 L168.74 570.36 L169.72 572.75 L170.70 575.15 L171.69 577.54 L172.67 579.93 L173.65 582.32 L174.63 584.70 L175.61 587.08 L176.59 589.45 L177.57 591.81 L178.55 594.16 L179.54 596.50 L180.52 598.82 L181.50 601.13 L182.48 603.42 L183.46 605.69 L184.44 607.93 L185.42 610.16 L186.41 612.36 L187.39 614.53 L188.37 616.68 L189.35 618.79 L190.33 620.88 L191.31 622.93 L192.29 624.94 L193.27 626.91 L194.26 628.85 L195.24 630.74 L196.22 632.60 L197.20 634.40 L198.18 636.16 L199.16 637.87 L200.14 639.54 L201.13 641.15 L202.11 642.71 L203.09 644.21 L204.07 645.66 L205.05 647.06 L206.03 648.39 L207.01 649.67 L207.99 650.88 L208.98 652.04 L209.96 653.13 L210.94 654.16 L211.92 655.12 L212.90 656.02 L213.88 656.85 L214.86 657.62 L215.85 658.32 L216.83 658.96 L217.81 659.52 L218.79 660.02 L219.77 660.45 L220.75 660.81 L221.73 661.10 L222.72 661.33 L223.70 661.49 L224.68 661.58 L225.66 661.60 L226.64 661.55 L227.62 661.44 L228.60 661.27 L229.58 661.03 L230.57 660.72 L231.55 660.35 L232.53 659.92 L233.51 659.42 L234.49 658.87 L235.47 658.25 L236.45 657.58 L237.44 656.84 L238.42 656.06 L239.40 655.21 L240.38 654.31 L241.36 653.36 L242.34 652.36 L243.32 651.31 L244.30 650.20 L245.29 649.06 L246.27 647.86 L247.25 646.62 L248.23 645.34 L249.21 644.02 L250.19 642.66 L251.17 641.25 L252.16 639.82 L253.14 638.34 L254.12 636.84 L255.10 635.30 L256.08 633.73 L257.06 632.13 L258.04 630.50 L259.03 628.85 L260.01 627.17 L260.99 625.46 L261.97 623.74 L262.95 621.99 L263.93 620.23 L264.91 618.45 L265.89 616.65 L266.88 614.83 L267.86 613.00 L268.84 611.16 L269.82 609.31 L270.80 607.44 L271.78 605.57 L272.76 603.69 L273.75 601.80 L274.73 599.90 L275.71 598.00 L276.69 596.10 L277.67 594.19 L278.65 592.28 L279.63 590.37 L280.61 588.46 L281.60 586.55 L282.58 584.64 L283.56 582.74 L284.54 580.83 L285.52 578.93 L286.50 577.04 L287.48 575.15 L288.47 573.26 L289.45 571.38 L290.43 569.51 L291.41 567.65 L292.39 565.79 L293.37 563.94 L294.35 562.11 L295.34 560.28 L296.32 558.46 L297.30 556.65 L298.28 554.85 L299.26 553.07 L300.24 551.29 L301.22 549.53 L302.20 547.78 L303.19 546.04 L304.17 544.32 L305.15 542.61 L306.13 540.91 L307.11 539.22 L308.09 537.55 L309.07 535.90 L310.06 534.25 L311.04 532.63 L312.02 531.01 L313.00 529.42 L313.98 527.83 L314.96 526.26 L315.94 524.71 L316.92 523.17 L317.91 521.65 L318.89 520.15 L319.87 518.65 L320.85 517.18 L321.83 515.72 L322.81 514.28 L323.79 512.85 L324.78 511.44 L325.76 510.04 L326.74 508.66 L327.72 507.29 L328.70 505.94 L329.68 504.61 L330.66 503.30 L331.65 501.99 L332.63 500.71 L333.61 499.44 L334.59 498.19 L335.57 496.95 L336.55 495.73 L337.53 494.52 L338.51 493.33 L339.50 492.16 L340.48 491.00 L341.46 489.85 L342.44 488.73 L343.42 487.61 L344.40 486.52 L345.38 485.44 L346.37 484.37 L347.35 483.32 L348.33 482.28 L349.31 481.26 L350.29 480.26 L351.27 479.27 L352.25 478.29 L353.23 477.33 L354.22 476.39 L355.20 475.46 L356.18 474.54 L357.16 473.64 L358.14 472.75 L359.12 471.88 L360.10 471.02 L361.09 470.18 L362.07 469.35 L363.05 468.53 L364.03 467.73 L365.01 466.94 L365.99 466.17 L366.97 465.41 L367.95 464.67 L368.94 463.93 L369.92 463.22 L370.90 462.51 L371.88 461.82 L372.86 461.14 L373.84 460.48 L374.82 459.83 L375.81 459.19 L376.79 458.57 L377.77 457.96 L378.75 457.36 L379.73 456.78 L380.71 456.21 L381.69 455.65 L382.68 455.10 L383.66 454.57 L384.64 454.05 L385.62 453.54 L386.60 453.05 L387.58 452.57 L388.56 452.10 L389.54 451.64 L390.53 451.20 L391.51 450.77 L392.49 450.35 L393.47 449.94 L394.45 449.55 L395.43 449.16 L396.41 448.79 L397.40 448.43 L398.38 448.09 L399.36 447.76 L400.34 447.43 L401.32 447.12 L402.30 446.83 L403.28 446.54 L404.26 446.27 L405.25 446.00 L406.23 445.75 L407.21 445.52 L408.19 445.29 L409.17 445.07 L410.15 444.87 L411.13 444.68 L412.12 444.50 L413.10 444.33 L414.08 444.18 L415.06 444.03 L416.04 443.90 L417.02 443.78 L418.00 443.67 L418.99 443.57 L419.97 443.48 L420.95 443.41 L421.93 443.34 L422.91 443.29 L423.89 443.25 L424.87 443.22 L425.85 443.21 L426.84 443.20" stroke="#0000ff" stroke-width="2.40" stroke-dasharray="7.3 6.9"/>
<path d="M73.55 443.20 L74.53 443.21 L75.51 443.24 L76.49 443.30 L77.48 443.37 L78.46 443.47 L79.44 443.58 L80.42 443.72 L81.40 443.88 L82.38 444.06 L83.36 444.27 L84.34 444.49 L85.33 444.73 L86.31 445.00 L87.29 445.29 L88.27 445.60 L89.25 445.93 L90.23 446.29 L91.21 446.66 L92.20 447.06 L93.18 447.48 L94.16 447.92 L95.14 448.38 L96.12 448.86 L97.10 449.37 L98.08 449.90 L99.07 450.45 L100.05 451.03 L101.03 451.62 L102.01 452.24 L102.99 452.88 L103.97 453.54 L104.95 454.23 L105.93 454.94 L106.92 455.67 L107.90 456.42 L108.88 457.20 L109.86 458.00 L110.84 458.83 L111.82 459.67 L112.80 460.54 L113.79 461.44 L114.77 462.36 L115.75 463.30 L116.73 464.26 L117.71 465.25 L118.69 466.26 L119.67 467.30 L120.65 468.36 L121.64 469.44 L122.62 470.55 L123.60 471.68 L124.58 472.84 L125.56 474.02 L126.54 475.23 L127.52 476.46 L128.51 477.71 L129.49 478.99 L130.47 480.29 L131.45 481.62 L132.43 482.97 L133.41 484.35 L134.39 485.75 L135.38 487.18 L136.36 488.63 L137.34 490.10 L138.32 491.60 L139.30 493.13 L140.28 494.68 L141.26 496.25 L142.24 497.85 L143.23 499.47 L144.21 501.11 L145.19 502.78 L146.17 504.48 L147.15 506.19 L148.13 507.93 L149.11 509.70 L150.10 511.48 L151.08 513.29 L152.06 515.12 L153.04 516.98 L154.02 518.85 L155.00 520.75 L155.98 522.67 L156.96 524.61 L157.95 526.57 L158.93 528.55 L159.91 530.55 L160.89 532.57 L161.87 534.61 L162.85 536.67 L163.83 538.74 L164.82 540.83 L165.80 542.94 L166.78 545.06 L167.76 547.20 L168.74 549.36 L169.72 551.52 L170.70 553.70 L171.69 555.89 L172.67 558.10 L173.65 560.31 L174.63 562.53 L175.61 564.76 L176.59 567.00 L177.57 569.25 L178.55 571.50 L179.54 573.75 L180.52 576.01 L181.50 578.27 L182.48 580.53 L183.46 582.79 L184.44 585.04 L185.42 587.30 L186.41 589.54 L187.39 591.79 L188.37 594.02 L189.35 596.25 L190.33 598.46 L191.31 600.66 L192.29 602.85 L193.27 605.03 L194.26 607.19 L195.24 609.32 L196.22 611.44 L197.20 613.54 L198.18 615.61 L199.16 617.66 L200.14 619.68 L201.13 621.68 L202.11 623.64 L203.09 625.57 L204.07 627.47 L205.05 629.33 L206.03 631.16 L207.01 632.94 L207.99 634.69 L208.98 636.39 L209.96 638.05 L210.94 639.67 L211.92 641.23 L212.90 642.75 L213.88 644.22 L214.86 645.64 L215.85 647.01 L216.83 648.32 L217.81 649.57 L218.79 650.77 L219.77 651.91 L220.75 653.00 L221.73 654.02 L222.72 654.98 L223.70 655.88 L224.68 656.71 L225.66 657.48 L226.64 658.19 L227.62 658.83 L228.60 659.41 L229.58 659.92 L230.57 660.36 L231.55 660.73 L232.53 661.04 L233.51 661.28 L234.49 661.46 L235.47 661.56 L236.45 661.60 L237.44 661.57 L238.42 661.47 L239.40 661.31 L240.38 661.08 L241.36 660.79 L242.34 660.43 L243.32 660.00 L244.30 659.51 L245.29 658.96 L246.27 658.35 L247.25 657.67 L248.23 656.94 L249.21 656.14 L250.19 655.29 L251.17 654.38 L252.16 653.41 L253.14 652.39 L254.12 651.32 L255.10 650.19 L256.08 649.02 L257.06 647.79 L258.04 646.52 L259.03 645.20 L260.01 643.84 L260.99 642.43 L261.97 640.98 L262.95 639.49 L263.93 637.96 L264.91 636.40 L265.89 634.80 L266.88 633.16 L267.86 631.50 L268.84 629.80 L269.82 628.07 L270.80 626.32 L271.78 624.54 L272.76 622.73 L273.75 620.90 L274.73 619.05 L275.71 617.18 L276.69 615.29 L277.67 613.39 L278.65 611.46 L279.63 609.53 L280.61 607.58 L281.60 605.61 L282.58 603.64 L283.56 601.66 L284.54 599.67 L285.52 597.67 L286.50 595.67 L287.48 593.66 L288.47 591.65 L289.45 589.64 L290.43 587.62 L291.41 585.61 L292.39 583.59 L293.37 581.58 L294.35 579.57 L295.34 577.56 L296.32 575.56 L297.30 573.56 L298.28 571.57 L299.26 569.59 L300.24 567.61 L301.22 565.64 L302.20 563.68 L303.19 561.73 L304.17 559.79 L305.15 557.86 L306.13 555.94 L307.11 554.03 L308.09 552.13 L309.07 550.25 L310.06 548.38 L311.04 546.52 L312.02 544.68 L313.00 542.85 L313.98 541.03 L314.96 539.23 L315.94 537.45 L316.92 535.68 L317.91 533.93 L318.89 532.19 L319.87 530.47 L320.85 528.77 L321.83 527.08 L322.81 525.41 L323.79 523.75 L324.78 522.12 L325.76 520.50 L326.74 518.90 L327.72 517.31 L328.70 515.75 L329.68 514.20 L330.66 512.67 L331.65 511.16 L332.63 509.67 L333.61 508.19 L334.59 506.73 L335.57 505.29 L336.55 503.87 L337.53 502.47 L338.51 501.08 L339.50 499.72 L340.48 498.37 L341.46 497.04 L342.44 495.72 L343.42 494.43 L344.40 493.15 L345.38 491.90 L346.37 490.66 L347.35 489.43 L348.33 488.23 L349.31 487.04 L350.29 485.87 L351.27 484.72 L352.25 483.59 L353.23 482.48 L354.22 481.38 L355.20 480.30 L356.18 479.23 L357.16 478.19 L358.14 477.16 L359.12 476.15 L360.10 475.15 L361.09 474.18 L362.07 473.22 L363.05 472.27 L364.03 471.35 L365.01 470.44 L365.99 469.54 L366.97 468.66 L367.95 467.80 L368.94 466.96 L369.92 466.13 L370.90 465.32 L371.88 464.52 L372.86 463.74 L373.84 462.98 L374.82 462.23 L375.81 461.49 L376.79 460.78 L377.77 460.07 L378.75 459.39 L379.73 458.72 L380.71 458.06 L381.69 457.42 L382.68 456.79 L383.66 456.18 L384.64 455.59 L385.62 455.00 L386.60 454.44 L387.58 453.89 L388.56 453.35 L389.54 452.83 L390.53 452.32 L391.51 451.82 L392.49 451.34 L393.47 450.88 L394.45 450.43 L395.43 449.99 L396.41 449.57 L397.40 449.16 L398.38 448.77 L399.36 448.38 L400.34 448.02 L401.32 447.66 L402.30 447.33 L403.28 447.00 L404.26 446.69 L405.25 446.39 L406.23 446.10 L407.21 445.83 L408.19 445.58 L409.17 445.33 L410.15 445.10 L411.13 444.88 L412.12 444.68 L413.10 444.49 L414.08 444.31 L415.06 444.14 L416.04 443.99 L417.02 443.86 L418.00 443.73 L418.99 443.62 L419.97 443.52 L420.95 443.44 L421.93 443.36 L422.91 443.30 L423.89 443.26 L424.87 443.23 L425.85 443.21 L426.84 443.20" stroke="#008300" stroke-width="2.40" stroke-dasharray="1.2 5.15"/>
</g>
<g clip-path="url(#cr0)" fill="none">
<path d="M435.70 124.29 L437.91 124.39 L440.12 124.48 L442.34 124.59 L444.55 124.69 L446.76 124.80 L448.97 124.92 L451.18 125.04 L453.40 125.16 L455.61 125.28 L457.82 125.41 L460.03 125.54 L462.24 125.68 L464.46 125.82 L466.67 125.96 L468.88 126.11 L471.09 126.26 L473.30 126.41 L475.52 126.57 L477.73 126.73 L479.94 126.89 L482.15 127.06 L484.36 127.23 L486.58 127.41 L488.79 127.59 L491.00 127.77 L493.21 127.96 L495.42 128.15 L497.64 128.34 L499.85 128.54 L502.06 128.74 L504.27 128.95 L506.48 129.16 L508.70 129.37 L510.91 129.59 L513.12 129.81 L515.33 130.04 L517.54 130.27 L519.76 130.50 L521.97 130.74 L524.18 130.98 L526.39 131.23 L528.60 131.48 L530.82 131.73 L533.03 131.99 L535.24 132.26 L537.45 132.52 L539.66 132.80 L541.88 133.07 L544.09 133.35 L546.30 133.64 L548.51 133.93 L550.72 134.22 L552.94 134.52 L555.15 134.83 L557.36 135.14 L559.57 135.45 L561.78 135.77 L564.00 136.09 L566.21 136.42 L568.42 136.75 L570.63 137.09 L572.84 137.44 L575.06 137.79 L577.27 138.14 L579.48 138.50 L581.69 138.87 L583.90 139.24 L586.12 139.62 L588.33 140.00 L590.54 140.39 L592.75 140.78 L594.96 141.18 L597.18 141.59 L599.39 142.00 L601.60 142.42 L603.81 142.85 L606.02 143.28 L608.24 143.72 L610.45 144.16 L612.66 144.61 L614.87 145.07 L617.08 145.54 L619.30 146.01 L621.51 146.49 L623.72 146.97 L625.93 147.46 L628.14 147.96 L630.36 148.47 L632.57 148.99 L634.78 149.51 L636.99 150.04 L639.20 150.58 L641.42 151.12 L643.63 151.68 L645.84 152.24 L648.05 152.81 L650.26 153.39 L652.48 153.97 L654.69 154.57 L656.90 155.17 L659.11 155.79 L661.32 156.41 L663.54 157.04 L665.75 157.68 L667.96 158.33 L670.17 158.99 L672.38 159.65 L674.60 160.33 L676.81 161.02 L679.02 161.71 L681.23 162.42 L683.44 163.14 L685.66 163.87 L687.87 164.60 L690.08 165.35 L692.29 166.11 L694.50 166.88 L695.00 167.06 M695.80 167.34 L696.72 167.66 L698.93 168.45 L701.14 169.26 L703.35 170.07 L705.56 170.90 L707.78 171.73 L709.99 172.58 L712.20 173.44 L714.41 174.32 L716.62 175.20 L718.84 176.10 L721.05 177.01 L723.26 177.93 L725.47 178.87 L727.68 179.82 L729.90 180.78 L732.11 181.76 L734.32 182.75 L736.53 183.75 L738.74 184.76 L740.96 185.79 L743.17 186.84 L745.38 187.90 L747.59 188.97 L749.80 190.06 L752.02 191.16 L754.23 192.28 L756.44 193.41 L758.65 194.56 L760.86 195.72 L763.08 196.90 L765.29 198.09 L767.50 199.31 L769.71 200.53 L771.92 201.78 L774.14 203.04 L776.35 204.31 L778.56 205.61 L780.77 206.92 L782.98 208.25 L785.20 209.59 L787.41 210.95 L789.62 212.34" stroke="#ff0000" stroke-width="2.40"/>
<path d="M435.70 124.23 L437.91 124.31 L440.12 124.39 L442.34 124.47 L444.55 124.55 L446.76 124.64 L448.97 124.73 L451.18 124.83 L453.40 124.92 L455.61 125.02 L457.82 125.12 L460.03 125.23 L462.24 125.34 L464.46 125.45 L466.67 125.56 L468.88 125.68 L471.09 125.80 L473.30 125.92 L475.52 126.04 L477.73 126.17 L479.94 126.30 L482.15 126.43 L484.36 126.57 L486.58 126.71 L488.79 126.85 L491.00 126.99 L493.21 127.14 L495.42 127.28 L497.64 127.43 L499.85 127.59 L502.06 127.74 L504.27 127.90 L506.48 128.06 L508.70 128.23 L510.91 128.39 L513.12 128.56 L515.33 128.73 L517.54 128.91 L519.76 129.08 L521.97 129.26 L524.18 129.44 L526.39 129.63 L528.60 129.81 L530.82 130.00 L533.03 130.19 L535.24 130.39 L537.45 130.58 L539.66 130.78 L541.88 130.98 L544.09 131.19 L546.30 131.39 L548.51 131.60 L550.72 131.82 L552.94 132.03 L555.15 132.25 L557.36 132.47 L559.57 132.69 L561.78 132.92 L564.00 133.15 L566.21 133.38 L568.42 133.61 L570.63 133.85 L572.84 134.09 L575.06 134.33 L577.27 134.58 L579.48 134.82 L581.69 135.08 L583.90 135.33 L586.12 135.59 L588.33 135.85 L590.54 136.11 L592.75 136.38 L594.96 136.65 L597.18 136.92 L599.39 137.20 L601.60 137.48 L603.81 137.76 L606.02 138.05 L608.24 138.34 L610.45 138.63 L612.66 138.92 L614.87 139.22 L617.08 139.53 L619.30 139.84 L621.51 140.15 L623.72 140.46 L625.93 140.78 L628.14 141.10 L630.36 141.43 L632.57 141.76 L634.78 142.09 L636.99 142.43 L639.20 142.77 L641.42 143.11 L643.63 143.46 L645.84 143.82 L648.05 144.18 L650.26 144.54 L652.48 144.91 L654.69 145.28 L656.90 145.65 L659.11 146.03 L661.32 146.42 L663.54 146.81 L665.75 147.20 L667.96 147.60 L670.17 148.01 L672.38 148.42 L674.60 148.83 L676.81 149.25 L679.02 149.68 L681.23 150.11 L683.44 150.54 L685.66 150.98 L687.87 151.43 L690.08 151.88 L692.29 152.34 L694.50 152.80 L696.72 153.27 L698.93 153.75 L701.14 154.23 L703.35 154.71 L705.56 155.21 L707.78 155.71 L709.99 156.21 L712.20 156.72 L714.41 157.24 L716.62 157.77 L718.84 158.30 L721.05 158.84 L723.26 159.38 L725.47 159.93 L727.68 160.49 L729.90 161.06 L732.11 161.63 L734.32 162.21 L736.53 162.80 L738.74 163.40 L740.96 164.00 L743.17 164.61 L745.38 165.23 L747.59 165.86 L749.80 166.49 L752.02 167.13 L754.23 167.79 L756.44 168.44 L758.65 169.11 L760.86 169.79 L763.08 170.47 L765.29 171.17 L767.50 171.87 L769.71 172.58 L771.92 173.30 L774.14 174.03 L776.35 174.77 L778.56 175.52 L780.77 176.28 L782.98 177.04 L785.20 177.82 L787.41 178.61 L789.62 179.41" stroke="#0000ff" stroke-width="2.40" stroke-dasharray="7.3 6.9" stroke-dashoffset="6.2"/>
<path d="M435.70 124.26 L437.91 124.32 L440.12 124.39 L442.34 124.46 L444.55 124.53 L446.76 124.60 L448.97 124.68 L451.18 124.75 L453.40 124.83 L455.61 124.90 L457.82 124.98 L460.03 125.06 L462.24 125.15 L464.46 125.23 L466.67 125.31 L468.88 125.40 L471.09 125.49 L473.30 125.58 L475.52 125.67 L477.73 125.76 L479.94 125.85 L482.15 125.94 L484.36 126.04 L486.58 126.14 L488.79 126.23 L491.00 126.33 L493.21 126.43 L495.42 126.53 L497.64 126.63 L499.85 126.74 L502.06 126.84 L504.27 126.94 L506.48 127.05 L508.70 127.16 L510.91 127.26 L513.12 127.37 L515.33 127.48 L517.54 127.59 L519.76 127.71 L521.97 127.82 L524.18 127.93 L526.39 128.04 L528.60 128.16 L530.82 128.28 L533.03 128.39 L535.24 128.51 L537.45 128.63 L539.66 128.75 L541.88 128.87 L544.09 128.99 L546.30 129.11 L548.51 129.23 L550.72 129.35 L552.94 129.48 L555.15 129.60 L557.36 129.73 L559.57 129.85 L561.78 129.98 L564.00 130.10 L566.21 130.23 L568.42 130.36 L570.63 130.49 L572.84 130.62 L575.06 130.75 L577.27 130.88 L579.48 131.01 L581.69 131.14 L583.90 131.27 L586.12 131.41 L588.33 131.54 L590.54 131.67 L592.75 131.81 L594.96 131.94 L597.18 132.08 L599.39 132.22 L601.60 132.35 L603.81 132.49 L606.02 132.63 L608.24 132.77 L610.45 132.91 L612.66 133.05 L614.87 133.19 L617.08 133.33 L619.30 133.47 L621.51 133.61 L623.72 133.75 L625.93 133.90 L628.14 134.04 L630.36 134.18 L632.57 134.33 L634.78 134.47 L636.99 134.62 L639.20 134.76 L641.42 134.91 L643.63 135.06 L645.84 135.20 L648.05 135.35 L650.26 135.50 L652.48 135.65 L654.69 135.80 L656.90 135.95 L659.11 136.10 L661.32 136.25 L663.54 136.40 L665.75 136.56 L667.96 136.71 L670.17 136.86 L672.38 137.02 L674.60 137.17 L676.81 137.33 L679.02 137.48 L681.23 137.64 L683.44 137.80 L685.66 137.96 L687.87 138.11 L690.08 138.27 L692.29 138.43 L694.50 138.59 L696.72 138.75 L698.93 138.92 L701.14 139.08 L703.35 139.24 L705.56 139.40 L707.78 139.57 L709.99 139.73 L712.20 139.90 L714.41 140.07 L716.62 140.23 L718.84 140.40 L721.05 140.57 L723.26 140.74 L725.47 140.91 L727.68 141.08 L729.90 141.26 L732.11 141.43 L734.32 141.60 L736.53 141.78 L738.74 141.95 L740.96 142.13 L743.17 142.31 L745.38 142.49 L747.59 142.67 L749.80 142.85 L752.02 143.03 L754.23 143.21 L756.44 143.39 L758.65 143.58 L760.86 143.76 L763.08 143.95 L765.29 144.14 L767.50 144.33 L769.71 144.52 L771.92 144.71 L774.14 144.90 L776.35 145.10 L778.56 145.29 L780.77 145.49 L782.98 145.68 L785.20 145.88 L787.41 146.08 L789.62 146.28" stroke="#008300" stroke-width="2.40" stroke-dasharray="1.2 5.15"/>
</g>
<g clip-path="url(#cr1)" fill="none">
<path d="M435.70 390.75 L437.91 390.59 L440.12 390.44 L442.34 390.28 L444.55 390.12 L446.76 389.96 L448.97 389.80 L451.18 389.63 L453.40 389.46 L455.61 389.29 L457.82 389.12 L460.03 388.94 L462.24 388.76 L464.46 388.57 L466.67 388.39 L468.88 388.20 L471.09 388.01 L473.30 387.82 L475.52 387.62 L477.73 387.42 L479.94 387.22 L482.15 387.01 L484.36 386.81 L486.58 386.60 L488.79 386.38 L491.00 386.17 L493.21 385.95 L495.42 385.72 L497.64 385.50 L499.85 385.27 L502.06 385.04 L504.27 384.80 L506.48 384.57 L508.70 384.33 L510.91 384.08 L513.12 383.84 L515.33 383.59 L517.54 383.33 L519.76 383.08 L521.97 382.82 L524.18 382.56 L526.39 382.29 L528.60 382.02 L530.82 381.75 L533.03 381.47 L535.24 381.19 L537.45 380.91 L539.66 380.62 L541.88 380.33 L544.09 380.04 L546.30 379.74 L548.51 379.44 L550.72 379.14 L552.94 378.83 L555.15 378.52 L557.36 378.20 L559.57 377.89 L561.78 377.56 L564.00 377.24 L566.21 376.91 L568.42 376.57 L570.63 376.23 L572.84 375.89 L575.06 375.55 L577.27 375.20 L579.48 374.84 L581.69 374.48 L583.90 374.12 L586.12 373.75 L588.33 373.38 L590.54 373.01 L592.75 372.63 L594.96 372.25 L597.18 371.86 L599.39 371.47 L601.60 371.07 L603.81 370.67 L606.02 370.26 L608.24 369.85 L610.45 369.44 L612.66 369.02 L614.87 368.59 L617.08 368.16 L619.30 367.73 L621.51 367.29 L623.72 366.85 L625.93 366.40 L628.14 365.94 L630.36 365.49 L632.57 365.02 L634.78 364.55 L636.99 364.08 L639.20 363.60 L641.42 363.12 L643.63 362.63 L645.84 362.13 L648.05 361.63 L650.26 361.12 L652.48 360.61 L654.69 360.10 L656.90 359.57 L659.11 359.05 L661.32 358.51 L663.54 357.97 L665.75 357.43 L667.96 356.87 L670.17 356.32 L672.38 355.75 L674.60 355.18 L676.81 354.61 L679.02 354.03 L681.23 353.44 L683.44 352.84 L685.66 352.24 L687.87 351.64 L690.08 351.02 L692.29 350.40 L694.50 349.78 L695.00 349.64 M695.80 349.41 L696.72 349.14 L698.93 348.51 L701.14 347.86 L703.35 347.21 L705.56 346.55 L707.78 345.88 L709.99 345.20 L712.20 344.52 L714.41 343.84 L716.62 343.14 L718.84 342.44 L721.05 341.73 L723.26 341.01 L725.47 340.29 L727.68 339.56 L729.90 338.82 L732.11 338.07 L734.32 337.31 L736.53 336.55 L738.74 335.78 L740.96 335.00 L743.17 334.22 L745.38 333.42 L747.59 332.62 L749.80 331.81 L752.02 330.99 L754.23 330.16 L756.44 329.33 L758.65 328.49 L760.86 327.63 L763.08 326.77 L765.29 325.90 L767.50 325.02 L769.71 324.14 L771.92 323.24 L774.14 322.34 L776.35 321.42 L778.56 320.50 L780.77 319.57 L782.98 318.63 L785.20 317.68 L787.41 316.72 L789.62 315.75" stroke="#ff0000" stroke-width="2.40"/>
<path d="M435.70 390.35 L437.91 390.28 L440.12 390.21 L442.34 390.13 L444.55 390.05 L446.76 389.97 L448.97 389.88 L451.18 389.79 L453.40 389.69 L455.61 389.59 L457.82 389.48 L460.03 389.37 L462.24 389.26 L464.46 389.14 L466.67 389.02 L468.88 388.89 L471.09 388.77 L473.30 388.63 L475.52 388.50 L477.73 388.36 L479.94 388.21 L482.15 388.07 L484.36 387.92 L486.58 387.77 L488.79 387.61 L491.00 387.45 L493.21 387.29 L495.42 387.12 L497.64 386.95 L499.85 386.78 L502.06 386.61 L504.27 386.43 L506.48 386.25 L508.70 386.07 L510.91 385.88 L513.12 385.70 L515.33 385.50 L517.54 385.31 L519.76 385.12 L521.97 384.92 L524.18 384.72 L526.39 384.51 L528.60 384.31 L530.82 384.10 L533.03 383.89 L535.24 383.68 L537.45 383.46 L539.66 383.25 L541.88 383.03 L544.09 382.80 L546.30 382.58 L548.51 382.35 L550.72 382.13 L552.94 381.90 L555.15 381.66 L557.36 381.43 L559.57 381.19 L561.78 380.96 L564.00 380.71 L566.21 380.47 L568.42 380.23 L570.63 379.98 L572.84 379.73 L575.06 379.48 L577.27 379.23 L579.48 378.98 L581.69 378.72 L583.90 378.46 L586.12 378.20 L588.33 377.94 L590.54 377.67 L592.75 377.41 L594.96 377.14 L597.18 376.87 L599.39 376.60 L601.60 376.32 L603.81 376.05 L606.02 375.77 L608.24 375.49 L610.45 375.21 L612.66 374.92 L614.87 374.64 L617.08 374.35 L619.30 374.06 L621.51 373.77 L623.72 373.47 L625.93 373.18 L628.14 372.88 L630.36 372.58 L632.57 372.27 L634.78 371.97 L636.99 371.66 L639.20 371.35 L641.42 371.04 L643.63 370.72 L645.84 370.41 L648.05 370.09 L650.26 369.77 L652.48 369.44 L654.69 369.11 L656.90 368.78 L659.11 368.45 L661.32 368.12 L663.54 367.78 L665.75 367.44 L667.96 367.10 L670.17 366.75 L672.38 366.40 L674.60 366.05 L676.81 365.70 L679.02 365.34 L681.23 364.98 L683.44 364.62 L685.66 364.25 L687.87 363.88 L690.08 363.51 L692.29 363.13 L694.50 362.75 L696.72 362.37 L698.93 361.98 L701.14 361.59 L703.35 361.20 L705.56 360.80 L707.78 360.40 L709.99 360.00 L712.20 359.59 L714.41 359.17 L716.62 358.76 L718.84 358.34 L721.05 357.91 L723.26 357.48 L725.47 357.05 L727.68 356.61 L729.90 356.17 L732.11 355.72 L734.32 355.27 L736.53 354.81 L738.74 354.35 L740.96 353.88 L743.17 353.41 L745.38 352.94 L747.59 352.46 L749.80 351.97 L752.02 351.48 L754.23 350.98 L756.44 350.48 L758.65 349.97 L760.86 349.45 L763.08 348.93 L765.29 348.41 L767.50 347.88 L769.71 347.34 L771.92 346.79 L774.14 346.24 L776.35 345.69 L778.56 345.12 L780.77 344.55 L782.98 343.98 L785.20 343.39 L787.41 342.80 L789.62 342.20" stroke="#0000ff" stroke-width="2.40" stroke-dasharray="7.3 6.9" stroke-dashoffset="6.2"/>
<path d="M435.70 390.38 L437.91 390.31 L440.12 390.24 L442.34 390.17 L444.55 390.10 L446.76 390.02 L448.97 389.94 L451.18 389.86 L453.40 389.78 L455.61 389.70 L457.82 389.61 L460.03 389.52 L462.24 389.44 L464.46 389.34 L466.67 389.25 L468.88 389.16 L471.09 389.06 L473.30 388.97 L475.52 388.87 L477.73 388.77 L479.94 388.67 L482.15 388.56 L484.36 388.46 L486.58 388.35 L488.79 388.25 L491.00 388.14 L493.21 388.03 L495.42 387.92 L497.64 387.81 L499.85 387.69 L502.06 387.58 L504.27 387.46 L506.48 387.35 L508.70 387.23 L510.91 387.11 L513.12 386.99 L515.33 386.87 L517.54 386.75 L519.76 386.62 L521.97 386.50 L524.18 386.37 L526.39 386.25 L528.60 386.12 L530.82 385.99 L533.03 385.86 L535.24 385.73 L537.45 385.60 L539.66 385.47 L541.88 385.34 L544.09 385.21 L546.30 385.07 L548.51 384.94 L550.72 384.80 L552.94 384.67 L555.15 384.53 L557.36 384.39 L559.57 384.26 L561.78 384.12 L564.00 383.98 L566.21 383.84 L568.42 383.70 L570.63 383.56 L572.84 383.42 L575.06 383.27 L577.27 383.13 L579.48 382.99 L581.69 382.84 L583.90 382.70 L586.12 382.55 L588.33 382.41 L590.54 382.26 L592.75 382.12 L594.96 381.97 L597.18 381.82 L599.39 381.68 L601.60 381.53 L603.81 381.38 L606.02 381.23 L608.24 381.08 L610.45 380.93 L612.66 380.78 L614.87 380.63 L617.08 380.48 L619.30 380.33 L621.51 380.18 L623.72 380.03 L625.93 379.87 L628.14 379.72 L630.36 379.57 L632.57 379.41 L634.78 379.26 L636.99 379.11 L639.20 378.95 L641.42 378.80 L643.63 378.64 L645.84 378.49 L648.05 378.33 L650.26 378.18 L652.48 378.02 L654.69 377.86 L656.90 377.71 L659.11 377.55 L661.32 377.39 L663.54 377.23 L665.75 377.07 L667.96 376.92 L670.17 376.76 L672.38 376.60 L674.60 376.44 L676.81 376.28 L679.02 376.12 L681.23 375.96 L683.44 375.79 L685.66 375.63 L687.87 375.47 L690.08 375.31 L692.29 375.15 L694.50 374.98 L696.72 374.82 L698.93 374.65 L701.14 374.49 L703.35 374.33 L705.56 374.16 L707.78 373.99 L709.99 373.83 L712.20 373.66 L714.41 373.50 L716.62 373.33 L718.84 373.16 L721.05 372.99 L723.26 372.82 L725.47 372.65 L727.68 372.48 L729.90 372.31 L732.11 372.14 L734.32 371.97 L736.53 371.80 L738.74 371.62 L740.96 371.45 L743.17 371.27 L745.38 371.10 L747.59 370.92 L749.80 370.75 L752.02 370.57 L754.23 370.39 L756.44 370.21 L758.65 370.04 L760.86 369.86 L763.08 369.67 L765.29 369.49 L767.50 369.31 L769.71 369.13 L771.92 368.94 L774.14 368.76 L776.35 368.57 L778.56 368.39 L780.77 368.20 L782.98 368.01 L785.20 367.82 L787.41 367.63 L789.62 367.44" stroke="#008300" stroke-width="2.40" stroke-dasharray="1.2 5.15"/>
</g>
<rect x="73.60" y="6.50" width="353.10" height="655.10" stroke="#000" stroke-width="1.25" fill="none"/>
<path d="M73.60 224.90 H426.70" stroke="#000" stroke-width="1.25" fill="none"/>
<path d="M73.60 443.20 H426.70" stroke="#000" stroke-width="1.25" fill="none"/>
<rect x="435.70" y="8.10" width="351.90" height="434.60" stroke="#000" stroke-width="1.25" fill="none"/>
<path d="M435.70 225.40 H787.60" stroke="#000" stroke-width="1.25" fill="none"/>
<path d="M83.36 6.50 v2.90 M83.36 222.00 v5.80 M83.36 440.30 v5.80 M83.36 661.60 v-2.90 M93.18 6.50 v2.90 M93.18 222.00 v5.80 M93.18 440.30 v5.80 M93.18 661.60 v-2.90 M102.99 6.50 v2.90 M102.99 222.00 v5.80 M102.99 440.30 v5.80 M102.99 661.60 v-2.90 M112.80 6.50 v2.90 M112.80 222.00 v5.80 M112.80 440.30 v5.80 M112.80 661.60 v-2.90 M122.62 6.50 v2.90 M122.62 222.00 v5.80 M122.62 440.30 v5.80 M122.62 661.60 v-2.90 M132.43 6.50 v5.80 M132.43 219.10 v11.60 M132.43 437.40 v11.60 M132.43 661.60 v-5.80 M142.24 6.50 v2.90 M142.24 222.00 v5.80 M142.24 440.30 v5.80 M142.24 661.60 v-2.90 M152.06 6.50 v2.90 M152.06 222.00 v5.80 M152.06 440.30 v5.80 M152.06 661.60 v-2.90 M161.87 6.50 v2.90 M161.87 222.00 v5.80 M161.87 440.30 v5.80 M161.87 661.60 v-2.90 M171.69 6.50 v2.90 M171.69 222.00 v5.80 M171.69 440.30 v5.80 M171.69 661.60 v-2.90 M181.50 6.50 v2.90 M181.50 222.00 v5.80 M181.50 440.30 v5.80 M181.50 661.60 v-2.90 M191.31 6.50 v5.80 M191.31 219.10 v11.60 M191.31 437.40 v11.60 M191.31 661.60 v-5.80 M201.13 6.50 v2.90 M201.13 222.00 v5.80 M201.13 440.30 v5.80 M201.13 661.60 v-2.90 M210.94 6.50 v2.90 M210.94 222.00 v5.80 M210.94 440.30 v5.80 M210.94 661.60 v-2.90 M220.75 6.50 v2.90 M220.75 222.00 v5.80 M220.75 440.30 v5.80 M220.75 661.60 v-2.90 M230.57 6.50 v2.90 M230.57 222.00 v5.80 M230.57 440.30 v5.80 M230.57 661.60 v-2.90 M240.38 6.50 v2.90 M240.38 222.00 v5.80 M240.38 440.30 v5.80 M240.38 661.60 v-2.90 M250.19 6.50 v5.80 M250.19 219.10 v11.60 M250.19 437.40 v11.60 M250.19 661.60 v-5.80 M260.01 6.50 v2.90 M260.01 222.00 v5.80 M260.01 440.30 v5.80 M260.01 661.60 v-2.90 M269.82 6.50 v2.90 M269.82 222.00 v5.80 M269.82 440.30 v5.80 M269.82 661.60 v-2.90 M279.63 6.50 v2.90 M279.63 222.00 v5.80 M279.63 440.30 v5.80 M279.63 661.60 v-2.90 M289.45 6.50 v2.90 M289.45 222.00 v5.80 M289.45 440.30 v5.80 M289.45 661.60 v-2.90 M299.26 6.50 v2.90 M299.26 222.00 v5.80 M299.26 440.30 v5.80 M299.26 661.60 v-2.90 M309.07 6.50 v5.80 M309.07 219.10 v11.60 M309.07 437.40 v11.60 M309.07 661.60 v-5.80 M318.89 6.50 v2.90 M318.89 222.00 v5.80 M318.89 440.30 v5.80 M318.89 661.60 v-2.90 M328.70 6.50 v2.90 M328.70 222.00 v5.80 M328.70 440.30 v5.80 M328.70 661.60 v-2.90 M338.51 6.50 v2.90 M338.51 222.00 v5.80 M338.51 440.30 v5.80 M338.51 661.60 v-2.90 M348.33 6.50 v2.90 M348.33 222.00 v5.80 M348.33 440.30 v5.80 M348.33 661.60 v-2.90 M358.14 6.50 v2.90 M358.14 222.00 v5.80 M358.14 440.30 v5.80 M358.14 661.60 v-2.90 M367.95 6.50 v5.80 M367.95 219.10 v11.60 M367.95 437.40 v11.60 M367.95 661.60 v-5.80 M377.77 6.50 v2.90 M377.77 222.00 v5.80 M377.77 440.30 v5.80 M377.77 661.60 v-2.90 M387.58 6.50 v2.90 M387.58 222.00 v5.80 M387.58 440.30 v5.80 M387.58 661.60 v-2.90 M397.40 6.50 v2.90 M397.40 222.00 v5.80 M397.40 440.30 v5.80 M397.40 661.60 v-2.90 M407.21 6.50 v2.90 M407.21 222.00 v5.80 M407.21 440.30 v5.80 M407.21 661.60 v-2.90 M417.02 6.50 v2.90 M417.02 222.00 v5.80 M417.02 440.30 v5.80 M417.02 661.60 v-2.90 M73.60 17.42 h2.50 M426.70 17.42 h-2.50 M73.60 28.34 h2.50 M426.70 28.34 h-2.50 M73.60 39.26 h2.50 M426.70 39.26 h-2.50 M73.60 50.18 h3.40 M426.70 50.18 h-3.40 M73.60 61.10 h2.50 M426.70 61.10 h-2.50 M73.60 72.02 h2.50 M426.70 72.02 h-2.50 M73.60 82.94 h2.50 M426.70 82.94 h-2.50 M73.60 93.86 h3.40 M426.70 93.86 h-3.40 M73.60 104.78 h2.50 M426.70 104.78 h-2.50 M73.60 115.70 h2.50 M426.70 115.70 h-2.50 M73.60 126.62 h2.50 M426.70 126.62 h-2.50 M73.60 137.54 h3.40 M426.70 137.54 h-3.40 M73.60 148.46 h2.50 M426.70 148.46 h-2.50 M73.60 159.38 h2.50 M426.70 159.38 h-2.50 M73.60 170.30 h2.50 M426.70 170.30 h-2.50 M73.60 181.22 h3.40 M426.70 181.22 h-3.40 M73.60 192.14 h2.50 M426.70 192.14 h-2.50 M73.60 203.06 h2.50 M426.70 203.06 h-2.50 M73.60 213.98 h2.50 M426.70 213.98 h-2.50 M73.60 235.81 h2.50 M426.70 235.81 h-2.50 M73.60 246.73 h2.50 M426.70 246.73 h-2.50 M73.60 257.64 h2.50 M426.70 257.64 h-2.50 M73.60 268.56 h3.40 M426.70 268.56 h-3.40 M73.60 279.48 h2.50 M426.70 279.48 h-2.50 M73.60 290.39 h2.50 M426.70 290.39 h-2.50 M73.60 301.31 h2.50 M426.70 301.31 h-2.50 M73.60 312.22 h3.40 M426.70 312.22 h-3.40 M73.60 323.13 h2.50 M426.70 323.13 h-2.50 M73.60 334.05 h2.50 M426.70 334.05 h-2.50 M73.60 344.97 h2.50 M426.70 344.97 h-2.50 M73.60 355.88 h3.40 M426.70 355.88 h-3.40 M73.60 366.79 h2.50 M426.70 366.79 h-2.50 M73.60 377.71 h2.50 M426.70 377.71 h-2.50 M73.60 388.62 h2.50 M426.70 388.62 h-2.50 M73.60 399.54 h3.40 M426.70 399.54 h-3.40 M73.60 410.45 h2.50 M426.70 410.45 h-2.50 M73.60 421.37 h2.50 M426.70 421.37 h-2.50 M73.60 432.28 h2.50 M426.70 432.28 h-2.50 M73.60 454.12 h2.50 M426.70 454.12 h-2.50 M73.60 465.04 h2.50 M426.70 465.04 h-2.50 M73.60 475.96 h2.50 M426.70 475.96 h-2.50 M73.60 486.88 h3.40 M426.70 486.88 h-3.40 M73.60 497.80 h2.50 M426.70 497.80 h-2.50 M73.60 508.72 h2.50 M426.70 508.72 h-2.50 M73.60 519.64 h2.50 M426.70 519.64 h-2.50 M73.60 530.56 h3.40 M426.70 530.56 h-3.40 M73.60 541.48 h2.50 M426.70 541.48 h-2.50 M73.60 552.40 h2.50 M426.70 552.40 h-2.50 M73.60 563.32 h2.50 M426.70 563.32 h-2.50 M73.60 574.24 h3.40 M426.70 574.24 h-3.40 M73.60 585.16 h2.50 M426.70 585.16 h-2.50 M73.60 596.08 h2.50 M426.70 596.08 h-2.50 M73.60 607.00 h2.50 M426.70 607.00 h-2.50 M73.60 617.92 h3.40 M426.70 617.92 h-3.40 M73.60 628.84 h2.50 M426.70 628.84 h-2.50 M73.60 639.76 h2.50 M426.70 639.76 h-2.50 M73.60 650.68 h2.50 M426.70 650.68 h-2.50 M457.82 8.10 v2.60 M457.82 222.80 v5.20 M457.82 442.70 v-2.60 M479.94 8.10 v3.90 M479.94 221.50 v7.80 M479.94 442.70 v-3.90 M502.06 8.10 v2.60 M502.06 222.80 v5.20 M502.06 442.70 v-2.60 M524.18 8.10 v2.60 M524.18 222.80 v5.20 M524.18 442.70 v-2.60 M546.30 8.10 v2.60 M546.30 222.80 v5.20 M546.30 442.70 v-2.60 M568.42 8.10 v3.90 M568.42 221.50 v7.80 M568.42 442.70 v-3.90 M590.54 8.10 v2.60 M590.54 222.80 v5.20 M590.54 442.70 v-2.60 M612.66 8.10 v2.60 M612.66 222.80 v5.20 M612.66 442.70 v-2.60 M634.78 8.10 v2.60 M634.78 222.80 v5.20 M634.78 442.70 v-2.60 M656.90 8.10 v3.90 M656.90 221.50 v7.80 M656.90 442.70 v-3.90 M679.02 8.10 v2.60 M679.02 222.80 v5.20 M679.02 442.70 v-2.60 M701.14 8.10 v2.60 M701.14 222.80 v5.20 M701.14 442.70 v-2.60 M723.26 8.10 v2.60 M723.26 222.80 v5.20 M723.26 442.70 v-2.60 M745.38 8.10 v3.90 M745.38 221.50 v7.80 M745.38 442.70 v-3.90 M767.50 8.10 v2.60 M767.50 222.80 v5.20 M767.50 442.70 v-2.60 M435.70 18.97 h2.60 M787.60 18.97 h-2.60 M435.70 29.83 h2.60 M787.60 29.83 h-2.60 M435.70 40.70 h2.60 M787.60 40.70 h-2.60 M435.70 51.56 h3.00 M787.60 51.56 h-3.00 M435.70 62.43 h2.60 M787.60 62.43 h-2.60 M435.70 73.29 h2.60 M787.60 73.29 h-2.60 M435.70 84.15 h2.60 M787.60 84.15 h-2.60 M435.70 95.02 h3.00 M787.60 95.02 h-3.00 M435.70 105.89 h2.60 M787.60 105.89 h-2.60 M435.70 116.75 h2.60 M787.60 116.75 h-2.60 M435.70 127.62 h2.60 M787.60 127.62 h-2.60 M435.70 138.48 h3.00 M787.60 138.48 h-3.00 M435.70 149.34 h2.60 M787.60 149.34 h-2.60 M435.70 160.21 h2.60 M787.60 160.21 h-2.60 M435.70 171.08 h2.60 M787.60 171.08 h-2.60 M435.70 181.94 h3.00 M787.60 181.94 h-3.00 M435.70 192.81 h2.60 M787.60 192.81 h-2.60 M435.70 203.67 h2.60 M787.60 203.67 h-2.60 M435.70 214.53 h2.60 M787.60 214.53 h-2.60 M435.70 236.27 h2.60 M787.60 236.27 h-2.60 M435.70 247.13 h2.60 M787.60 247.13 h-2.60 M435.70 258.00 h2.60 M787.60 258.00 h-2.60 M435.70 268.86 h3.00 M787.60 268.86 h-3.00 M435.70 279.73 h2.60 M787.60 279.73 h-2.60 M435.70 290.59 h2.60 M787.60 290.59 h-2.60 M435.70 301.45 h2.60 M787.60 301.45 h-2.60 M435.70 312.32 h3.00 M787.60 312.32 h-3.00 M435.70 323.19 h2.60 M787.60 323.19 h-2.60 M435.70 334.05 h2.60 M787.60 334.05 h-2.60 M435.70 344.92 h2.60 M787.60 344.92 h-2.60 M435.70 355.78 h3.00 M787.60 355.78 h-3.00 M435.70 366.64 h2.60 M787.60 366.64 h-2.60 M435.70 377.51 h2.60 M787.60 377.51 h-2.60 M435.70 388.38 h2.60 M787.60 388.38 h-2.60 M435.70 399.24 h3.00 M787.60 399.24 h-3.00 M435.70 410.11 h2.60 M787.60 410.11 h-2.60 M435.70 420.97 h2.60 M787.60 420.97 h-2.60 M435.70 431.83 h2.60 M787.60 431.83 h-2.60" stroke="#000" stroke-width="1.1" fill="none"/>
<text x="69.00" y="13.20" font-size="18.00" text-anchor="end" font-family="Liberation Serif, serif" fill="#000" stroke="#000" stroke-width="0.18" textLength="24.3" lengthAdjust="spacing">0.0</text>
<text x="69.10" y="56.88" font-size="18.00" text-anchor="end" font-family="Liberation Serif, serif" fill="#000" stroke="#000" stroke-width="0.18" textLength="36.5" lengthAdjust="spacing">−0.2</text>
<text x="69.10" y="100.56" font-size="18.00" text-anchor="end" font-family="Liberation Serif, serif" fill="#000" stroke="#000" stroke-width="0.18" textLength="36.5" lengthAdjust="spacing">−0.4</text>
<text x="69.10" y="144.24" font-size="18.00" text-anchor="end" font-family="Liberation Serif, serif" fill="#000" stroke="#000" stroke-width="0.18" textLength="36.5" lengthAdjust="spacing">−0.6</text>
<text x="69.10" y="187.92" font-size="18.00" text-anchor="end" font-family="Liberation Serif, serif" fill="#000" stroke="#000" stroke-width="0.18" textLength="36.5" lengthAdjust="spacing">−0.8</text>
<text x="69.10" y="231.60" font-size="18.00" text-anchor="end" font-family="Liberation Serif, serif" fill="#000" stroke="#000" stroke-width="0.18" textLength="36.5" lengthAdjust="spacing">−1.0</text>
<text x="69.10" y="275.26" font-size="18.00" text-anchor="end" font-family="Liberation Serif, serif" fill="#000" stroke="#000" stroke-width="0.18" textLength="36.5" lengthAdjust="spacing">−0.2</text>
<text x="69.10" y="318.92" font-size="18.00" text-anchor="end" font-family="Liberation Serif, serif" fill="#000" stroke="#000" stroke-width="0.18" textLength="36.5" lengthAdjust="spacing">−0.4</text>
<text x="69.10" y="362.58" font-size="18.00" text-anchor="end" font-family="Liberation Serif, serif" fill="#000" stroke="#000" stroke-width="0.18" textLength="36.5" lengthAdjust="spacing">−0.6</text>
<text x="69.10" y="406.24" font-size="18.00" text-anchor="end" font-family="Liberation Serif, serif" fill="#000" stroke="#000" stroke-width="0.18" textLength="36.5" lengthAdjust="spacing">−0.8</text>
<text x="69.10" y="449.90" font-size="18.00" text-anchor="end" font-family="Liberation Serif, serif" fill="#000" stroke="#000" stroke-width="0.18" textLength="36.5" lengthAdjust="spacing">−1.0</text>
<text x="69.10" y="493.58" font-size="18.00" text-anchor="end" font-family="Liberation Serif, serif" fill="#000" stroke="#000" stroke-width="0.18" textLength="36.5" lengthAdjust="spacing">−0.2</text>
<text x="69.10" y="537.26" font-size="18.00" text-anchor="end" font-family="Liberation Serif, serif" fill="#000" stroke="#000" stroke-width="0.18" textLength="36.5" lengthAdjust="spacing">−0.4</text>
<text x="69.10" y="580.94" font-size="18.00" text-anchor="end" font-family="Liberation Serif, serif" fill="#000" stroke="#000" stroke-width="0.18" textLength="36.5" lengthAdjust="spacing">−0.6</text>
<text x="69.10" y="624.62" font-size="18.00" text-anchor="end" font-family="Liberation Serif, serif" fill="#000" stroke="#000" stroke-width="0.18" textLength="36.5" lengthAdjust="spacing">−0.8</text>
<text x="69.10" y="668.30" font-size="18.00" text-anchor="end" font-family="Liberation Serif, serif" fill="#000" stroke="#000" stroke-width="0.18" textLength="36.5" lengthAdjust="spacing">−1.0</text>
<text x="132.43" y="682.80" font-size="18.00" text-anchor="middle" font-family="Liberation Serif, serif" fill="#000" stroke="#000" stroke-width="0.18" >30</text>
<text x="191.31" y="682.80" font-size="18.00" text-anchor="middle" font-family="Liberation Serif, serif" fill="#000" stroke="#000" stroke-width="0.18" >60</text>
<text x="250.19" y="682.80" font-size="18.00" text-anchor="middle" font-family="Liberation Serif, serif" fill="#000" stroke="#000" stroke-width="0.18" >90</text>
<text x="309.07" y="682.80" font-size="18.00" text-anchor="middle" font-family="Liberation Serif, serif" fill="#000" stroke="#000" stroke-width="0.18" >120</text>
<text x="367.95" y="682.80" font-size="18.00" text-anchor="middle" font-family="Liberation Serif, serif" fill="#000" stroke="#000" stroke-width="0.18" >150</text>
<text x="792.00" y="14.80" font-size="18.00" text-anchor="start" font-family="Liberation Serif, serif" fill="#000" stroke="#000" stroke-width="0.18" >0</text>
<text x="791.80" y="58.26" font-size="18.00" text-anchor="start" font-family="Liberation Serif, serif" fill="#000" stroke="#000" stroke-width="0.18" textLength="36.5" lengthAdjust="spacing">−0.2</text>
<text x="791.80" y="101.72" font-size="18.00" text-anchor="start" font-family="Liberation Serif, serif" fill="#000" stroke="#000" stroke-width="0.18" textLength="36.5" lengthAdjust="spacing">−0.4</text>
<text x="791.80" y="145.18" font-size="18.00" text-anchor="start" font-family="Liberation Serif, serif" fill="#000" stroke="#000" stroke-width="0.18" textLength="36.5" lengthAdjust="spacing">−0.6</text>
<text x="791.80" y="188.64" font-size="18.00" text-anchor="start" font-family="Liberation Serif, serif" fill="#000" stroke="#000" stroke-width="0.18" textLength="36.5" lengthAdjust="spacing">−0.8</text>
<text x="791.80" y="232.10" font-size="18.00" text-anchor="start" font-family="Liberation Serif, serif" fill="#000" stroke="#000" stroke-width="0.18" textLength="36.5" lengthAdjust="spacing">−1.0</text>
<text x="791.80" y="275.56" font-size="18.00" text-anchor="start" font-family="Liberation Serif, serif" fill="#000" stroke="#000" stroke-width="0.18" textLength="36.5" lengthAdjust="spacing">−0.2</text>
<text x="791.80" y="319.02" font-size="18.00" text-anchor="start" font-family="Liberation Serif, serif" fill="#000" stroke="#000" stroke-width="0.18" textLength="36.5" lengthAdjust="spacing">−0.4</text>
<text x="791.80" y="362.48" font-size="18.00" text-anchor="start" font-family="Liberation Serif, serif" fill="#000" stroke="#000" stroke-width="0.18" textLength="36.5" lengthAdjust="spacing">−0.6</text>
<text x="791.80" y="405.94" font-size="18.00" text-anchor="start" font-family="Liberation Serif, serif" fill="#000" stroke="#000" stroke-width="0.18" textLength="36.5" lengthAdjust="spacing">−0.8</text>
<text x="791.80" y="449.40" font-size="18.00" text-anchor="start" font-family="Liberation Serif, serif" fill="#000" stroke="#000" stroke-width="0.18" textLength="36.5" lengthAdjust="spacing">−1.0</text>
<text x="479.94" y="464.00" font-size="18.00" text-anchor="middle" font-family="Liberation Serif, serif" fill="#000" stroke="#000" stroke-width="0.18" >60</text>
<text x="568.42" y="464.00" font-size="18.00" text-anchor="middle" font-family="Liberation Serif, serif" fill="#000" stroke="#000" stroke-width="0.18" >80</text>
<text x="656.90" y="464.00" font-size="18.00" text-anchor="middle" font-family="Liberation Serif, serif" fill="#000" stroke="#000" stroke-width="0.18" >100</text>
<text x="745.38" y="464.00" font-size="18.00" text-anchor="middle" font-family="Liberation Serif, serif" fill="#000" stroke="#000" stroke-width="0.18" >120</text>
<path d="M157.20 26.70 q1.0 -0.9 1.7 0.5 L161.70 37.00 q0.5 1.3 1.7 0.1" stroke="#000" stroke-width="1.25" fill="none" stroke-linecap="round"/>
<path d="M165.70 26.10 L154.20 37.70" stroke="#000" stroke-width="0.75" fill="none" stroke-linecap="round"/>
<text x="165.60" y="33.70" font-size="15.50" font-family="Liberation Serif, serif" fill="#000" stroke="#000" stroke-width="0.18" textLength="29.90" lengthAdjust="spacingAndGlyphs" xml:space="preserve">SMS</text>
<text x="202.80" y="33.70" font-size="15.50" font-family="Liberation Serif, serif" fill="#000" stroke="#000" stroke-width="0.18" textLength="60.40" lengthAdjust="spacingAndGlyphs" xml:space="preserve">N⁴LO450</text>
<text x="268.20" y="33.70" font-size="15.50" font-family="Liberation Serif, serif" fill="#000" stroke="#000" stroke-width="0.18" textLength="72.00" lengthAdjust="spacingAndGlyphs" xml:space="preserve">+N²LO3NI</text>
<path d="M518.70 27.60 q1.0 -0.9 1.7 0.5 L523.20 37.90 q0.5 1.3 1.7 0.1" stroke="#000" stroke-width="1.25" fill="none" stroke-linecap="round"/>
<path d="M527.20 27.00 L515.70 38.60" stroke="#000" stroke-width="0.75" fill="none" stroke-linecap="round"/>
<text x="527.10" y="34.60" font-size="15.50" font-family="Liberation Serif, serif" fill="#000" stroke="#000" stroke-width="0.18" textLength="29.90" lengthAdjust="spacingAndGlyphs" xml:space="preserve">SMS</text>
<text x="564.30" y="34.60" font-size="15.50" font-family="Liberation Serif, serif" fill="#000" stroke="#000" stroke-width="0.18" textLength="60.40" lengthAdjust="spacingAndGlyphs" xml:space="preserve">N⁴LO450</text>
<text x="629.70" y="34.60" font-size="15.50" font-family="Liberation Serif, serif" fill="#000" stroke="#000" stroke-width="0.18" textLength="72.00" lengthAdjust="spacingAndGlyphs" xml:space="preserve">+N²LO3NI</text>
<text x="190.90" y="56.10" font-size="16.30" font-family="Liberation Serif, serif" fill="#000" stroke="#000" stroke-width="0.18" font-style="italic" xml:space="preserve">ω</text>
<text x="204.10" y="60.10" font-size="15.00" font-family="Liberation Serif, serif" fill="#000" stroke="#000" stroke-width="0.18" textLength="19.00" lengthAdjust="spacingAndGlyphs" xml:space="preserve">lab</text>
<text x="228.40" y="56.10" font-size="19.00" font-family="Liberation Serif, serif" fill="#000" stroke="#000" stroke-width="0.18" xml:space="preserve">=</text>
<text x="245.20" y="56.10" font-size="18.30" font-family="Liberation Serif, serif" fill="#000" stroke="#000" stroke-width="0.18" textLength="17.60" lengthAdjust="spacingAndGlyphs" xml:space="preserve">60</text>
<text x="269.20" y="56.10" font-size="19.00" font-family="Liberation Serif, serif" fill="#000" stroke="#000" stroke-width="0.18" textLength="38.40" lengthAdjust="spacingAndGlyphs" xml:space="preserve">MeV</text>
<text x="190.90" y="274.10" font-size="16.30" font-family="Liberation Serif, serif" fill="#000" stroke="#000" stroke-width="0.18" font-style="italic" xml:space="preserve">ω</text>
<text x="204.10" y="278.10" font-size="15.00" font-family="Liberation Serif, serif" fill="#000" stroke="#000" stroke-width="0.18" textLength="19.00" lengthAdjust="spacingAndGlyphs" xml:space="preserve">lab</text>
<text x="228.40" y="274.10" font-size="19.00" font-family="Liberation Serif, serif" fill="#000" stroke="#000" stroke-width="0.18" xml:space="preserve">=</text>
<text x="245.20" y="274.10" font-size="18.30" font-family="Liberation Serif, serif" fill="#000" stroke="#000" stroke-width="0.18" textLength="17.60" lengthAdjust="spacingAndGlyphs" xml:space="preserve">90</text>
<text x="269.20" y="274.10" font-size="19.00" font-family="Liberation Serif, serif" fill="#000" stroke="#000" stroke-width="0.18" textLength="38.40" lengthAdjust="spacingAndGlyphs" xml:space="preserve">MeV</text>
<text x="186.10" y="493.00" font-size="16.30" font-family="Liberation Serif, serif" fill="#000" stroke="#000" stroke-width="0.18" font-style="italic" xml:space="preserve">ω</text>
<text x="199.30" y="497.00" font-size="15.00" font-family="Liberation Serif, serif" fill="#000" stroke="#000" stroke-width="0.18" textLength="19.00" lengthAdjust="spacingAndGlyphs" xml:space="preserve">lab</text>
<text x="223.60" y="493.00" font-size="19.00" font-family="Liberation Serif, serif" fill="#000" stroke="#000" stroke-width="0.18" xml:space="preserve">=</text>
<text x="240.40" y="493.00" font-size="18.30" font-family="Liberation Serif, serif" fill="#000" stroke="#000" stroke-width="0.18" textLength="27.40" lengthAdjust="spacingAndGlyphs" xml:space="preserve">120</text>
<text x="274.20" y="493.00" font-size="19.00" font-family="Liberation Serif, serif" fill="#000" stroke="#000" stroke-width="0.18" textLength="38.40" lengthAdjust="spacingAndGlyphs" xml:space="preserve">MeV</text>
<text x="573.40" y="57.60" font-size="18.50" font-family="Liberation Serif, serif" fill="#000" stroke="#000" stroke-width="0.18" font-style="italic" xml:space="preserve">θ</text>
<text x="582.60" y="61.60" font-size="15.00" font-family="Liberation Serif, serif" fill="#000" stroke="#000" stroke-width="0.18" textLength="19.00" lengthAdjust="spacingAndGlyphs" xml:space="preserve">lab</text>
<text x="605.80" y="57.60" font-size="19.00" font-family="Liberation Serif, serif" fill="#000" stroke="#000" stroke-width="0.18" xml:space="preserve">=</text>
<text x="622.60" y="57.60" font-size="18.30" font-family="Liberation Serif, serif" fill="#000" stroke="#000" stroke-width="0.18" textLength="18.60" lengthAdjust="spacingAndGlyphs" xml:space="preserve">55</text>
<text x="642.20" y="57.60" font-size="19.00" font-family="Liberation Serif, serif" fill="#000" stroke="#000" stroke-width="0.18" xml:space="preserve">°</text>
<text x="568.40" y="274.80" font-size="18.50" font-family="Liberation Serif, serif" fill="#000" stroke="#000" stroke-width="0.18" font-style="italic" xml:space="preserve">θ</text>
<text x="577.60" y="278.80" font-size="15.00" font-family="Liberation Serif, serif" fill="#000" stroke="#000" stroke-width="0.18" textLength="19.00" lengthAdjust="spacingAndGlyphs" xml:space="preserve">lab</text>
<text x="600.80" y="274.80" font-size="19.00" font-family="Liberation Serif, serif" fill="#000" stroke="#000" stroke-width="0.18" xml:space="preserve">=</text>
<text x="617.60" y="274.80" font-size="18.30" font-family="Liberation Serif, serif" fill="#000" stroke="#000" stroke-width="0.18" textLength="27.80" lengthAdjust="spacingAndGlyphs" xml:space="preserve">110</text>
<text x="646.40" y="274.80" font-size="19.00" font-family="Liberation Serif, serif" fill="#000" stroke="#000" stroke-width="0.18" xml:space="preserve">°</text>
<text x="211.50" y="714.40" font-size="18.50" font-family="Liberation Serif, serif" fill="#000" stroke="#000" stroke-width="0.18" font-style="italic" xml:space="preserve">θ</text>
<text x="220.70" y="717.90" font-size="15.00" font-family="Liberation Serif, serif" fill="#000" stroke="#000" stroke-width="0.18" textLength="19.00" lengthAdjust="spacingAndGlyphs" xml:space="preserve">lab</text>
<text x="245.20" y="714.40" font-size="19.50" font-family="Liberation Serif, serif" fill="#000" stroke="#000" stroke-width="0.18" textLength="41.40" lengthAdjust="spacingAndGlyphs" xml:space="preserve">[deg]</text>
<text x="566.60" y="495.50" font-size="16.30" font-family="Liberation Serif, serif" fill="#000" stroke="#000" stroke-width="0.18" font-style="italic" xml:space="preserve">ω</text>
<text x="580.30" y="499.10" font-size="15.00" font-family="Liberation Serif, serif" fill="#000" stroke="#000" stroke-width="0.18" textLength="19.00" lengthAdjust="spacingAndGlyphs" xml:space="preserve">lab</text>
<text x="604.80" y="495.50" font-size="19.30" font-family="Liberation Serif, serif" fill="#000" stroke="#000" stroke-width="0.18" textLength="49.80" lengthAdjust="spacingAndGlyphs" xml:space="preserve">[MeV]</text>
<g transform="translate(18.8,364.3) rotate(-90)"><text x="0" y="0" font-size="19" font-family="Liberation Serif, serif" fill="#000" stroke="#000" stroke-width="0.18">Σ</text><text x="12.0" y="-7.5" font-size="14.4" font-family="Liberation Serif, serif" fill="#000" stroke="#000" stroke-width="0.18">lin</text></g>
</svg>
</body></html>
